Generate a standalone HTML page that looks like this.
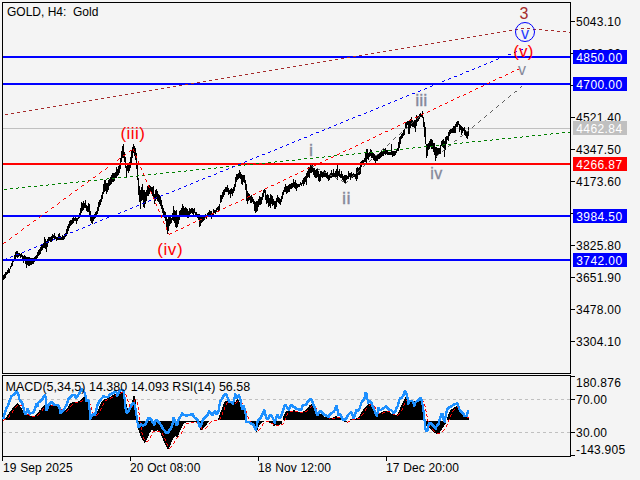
<!DOCTYPE html><html><head><meta charset="utf-8"><style>
html,body{margin:0;padding:0;width:640px;height:480px;overflow:hidden;background:#f4f4f4;}
svg{display:block;position:absolute;left:0;top:0}
text{font-family:"Liberation Sans",sans-serif;}
</style></head><body>
<svg width="640" height="480" viewBox="0 0 640 480">
<rect x="0" y="0" width="640" height="480" fill="#f4f4f4"/>
<line x1="3" y1="128.5" x2="570" y2="128.5" stroke="#c0c0c0" stroke-width="1" shape-rendering="crispEdges"/>
<g fill="#000" shape-rendering="crispEdges">
<rect x="3" y="275" width="1" height="5"/>
<rect x="4" y="274" width="1" height="5"/>
<rect x="5" y="272" width="1" height="6"/>
<rect x="6" y="272" width="1" height="3"/>
<rect x="7" y="270" width="1" height="4"/>
<rect x="8" y="268" width="1" height="5"/>
<rect x="9" y="269" width="1" height="4"/>
<rect x="10" y="266" width="1" height="3"/>
<rect x="11" y="263" width="1" height="4"/>
<rect x="12" y="261" width="1" height="5"/>
<rect x="13" y="259" width="1" height="3"/>
<rect x="14" y="255" width="1" height="6"/>
<rect x="15" y="252" width="1" height="9"/>
<rect x="16" y="251" width="1" height="6"/>
<rect x="17" y="251" width="1" height="7"/>
<rect x="18" y="253" width="1" height="4"/>
<rect x="19" y="253" width="1" height="3"/>
<rect x="20" y="254" width="1" height="4"/>
<rect x="21" y="253" width="1" height="4"/>
<rect x="22" y="255" width="1" height="5"/>
<rect x="23" y="256" width="1" height="7"/>
<rect x="24" y="255" width="1" height="6"/>
<rect x="25" y="256" width="1" height="8"/>
<rect x="26" y="257" width="1" height="11"/>
<rect x="27" y="257" width="1" height="8"/>
<rect x="28" y="257" width="1" height="9"/>
<rect x="29" y="257" width="1" height="9"/>
<rect x="30" y="258" width="1" height="7"/>
<rect x="31" y="258" width="1" height="7"/>
<rect x="32" y="258" width="1" height="6"/>
<rect x="33" y="258" width="1" height="6"/>
<rect x="34" y="257" width="1" height="5"/>
<rect x="35" y="256" width="1" height="5"/>
<rect x="36" y="255" width="1" height="5"/>
<rect x="37" y="252" width="1" height="6"/>
<rect x="38" y="250" width="1" height="6"/>
<rect x="39" y="249" width="1" height="6"/>
<rect x="40" y="247" width="1" height="7"/>
<rect x="41" y="244" width="1" height="7"/>
<rect x="42" y="244" width="1" height="6"/>
<rect x="43" y="243" width="1" height="5"/>
<rect x="44" y="237" width="1" height="11"/>
<rect x="45" y="239" width="1" height="10"/>
<rect x="46" y="241" width="1" height="11"/>
<rect x="47" y="239" width="1" height="8"/>
<rect x="48" y="237" width="1" height="6"/>
<rect x="49" y="237" width="1" height="4"/>
<rect x="50" y="237" width="1" height="5"/>
<rect x="51" y="236" width="1" height="6"/>
<rect x="52" y="234" width="1" height="6"/>
<rect x="53" y="235" width="1" height="3"/>
<rect x="54" y="233" width="1" height="6"/>
<rect x="55" y="236" width="1" height="3"/>
<rect x="56" y="237" width="1" height="4"/>
<rect x="57" y="237" width="1" height="3"/>
<rect x="58" y="234" width="1" height="6"/>
<rect x="59" y="233" width="1" height="7"/>
<rect x="60" y="236" width="1" height="4"/>
<rect x="61" y="237" width="1" height="3"/>
<rect x="62" y="235" width="1" height="5"/>
<rect x="63" y="236" width="1" height="4"/>
<rect x="64" y="234" width="1" height="5"/>
<rect x="65" y="233" width="1" height="4"/>
<rect x="66" y="229" width="1" height="7"/>
<rect x="67" y="226" width="1" height="8"/>
<rect x="68" y="224" width="1" height="7"/>
<rect x="69" y="221" width="1" height="7"/>
<rect x="70" y="220" width="1" height="6"/>
<rect x="71" y="220" width="1" height="5"/>
<rect x="72" y="218" width="1" height="6"/>
<rect x="73" y="217" width="1" height="6"/>
<rect x="74" y="218" width="1" height="3"/>
<rect x="75" y="217" width="1" height="4"/>
<rect x="76" y="218" width="1" height="6"/>
<rect x="77" y="218" width="1" height="3"/>
<rect x="78" y="215" width="1" height="4"/>
<rect x="79" y="213" width="1" height="5"/>
<rect x="80" y="208" width="1" height="9"/>
<rect x="81" y="202" width="1" height="11"/>
<rect x="82" y="203" width="1" height="8"/>
<rect x="83" y="201" width="1" height="9"/>
<rect x="84" y="203" width="1" height="5"/>
<rect x="85" y="200" width="1" height="8"/>
<rect x="86" y="205" width="1" height="6"/>
<rect x="87" y="206" width="1" height="6"/>
<rect x="88" y="203" width="1" height="9"/>
<rect x="89" y="204" width="1" height="11"/>
<rect x="90" y="211" width="1" height="10"/>
<rect x="91" y="215" width="1" height="8"/>
<rect x="92" y="216" width="1" height="8"/>
<rect x="93" y="215" width="1" height="6"/>
<rect x="94" y="214" width="1" height="5"/>
<rect x="95" y="212" width="1" height="6"/>
<rect x="96" y="211" width="1" height="6"/>
<rect x="97" y="207" width="1" height="7"/>
<rect x="98" y="202" width="1" height="9"/>
<rect x="99" y="200" width="1" height="7"/>
<rect x="100" y="199" width="1" height="6"/>
<rect x="101" y="195" width="1" height="7"/>
<rect x="102" y="192" width="1" height="7"/>
<rect x="103" y="184" width="1" height="10"/>
<rect x="104" y="180" width="1" height="12"/>
<rect x="105" y="180" width="1" height="11"/>
<rect x="106" y="183" width="1" height="11"/>
<rect x="107" y="183" width="1" height="9"/>
<rect x="108" y="180" width="1" height="10"/>
<rect x="109" y="179" width="1" height="7"/>
<rect x="110" y="177" width="1" height="8"/>
<rect x="111" y="175" width="1" height="9"/>
<rect x="112" y="173" width="1" height="9"/>
<rect x="113" y="173" width="1" height="9"/>
<rect x="114" y="173" width="1" height="8"/>
<rect x="115" y="172" width="1" height="6"/>
<rect x="116" y="167" width="1" height="11"/>
<rect x="117" y="169" width="1" height="7"/>
<rect x="118" y="166" width="1" height="9"/>
<rect x="119" y="163" width="1" height="10"/>
<rect x="120" y="158" width="1" height="11"/>
<rect x="121" y="151" width="1" height="11"/>
<rect x="122" y="146" width="1" height="12"/>
<rect x="123" y="144" width="1" height="14"/>
<rect x="124" y="152" width="1" height="10"/>
<rect x="125" y="157" width="1" height="11"/>
<rect x="126" y="166" width="1" height="12"/>
<rect x="127" y="163" width="1" height="8"/>
<rect x="128" y="163" width="1" height="10"/>
<rect x="129" y="162" width="1" height="9"/>
<rect x="130" y="157" width="1" height="11"/>
<rect x="131" y="150" width="1" height="13"/>
<rect x="132" y="147" width="1" height="11"/>
<rect x="133" y="144" width="1" height="9"/>
<rect x="134" y="146" width="1" height="10"/>
<rect x="135" y="148" width="1" height="12"/>
<rect x="136" y="153" width="1" height="16"/>
<rect x="137" y="164" width="1" height="16"/>
<rect x="138" y="178" width="1" height="17"/>
<rect x="139" y="186" width="1" height="16"/>
<rect x="140" y="190" width="1" height="19"/>
<rect x="141" y="187" width="1" height="14"/>
<rect x="142" y="184" width="1" height="16"/>
<rect x="143" y="190" width="1" height="17"/>
<rect x="144" y="190" width="1" height="18"/>
<rect x="145" y="192" width="1" height="12"/>
<rect x="146" y="190" width="1" height="11"/>
<rect x="147" y="186" width="1" height="10"/>
<rect x="148" y="187" width="1" height="9"/>
<rect x="149" y="185" width="1" height="9"/>
<rect x="150" y="186" width="1" height="6"/>
<rect x="151" y="187" width="1" height="6"/>
<rect x="152" y="187" width="1" height="9"/>
<rect x="153" y="186" width="1" height="13"/>
<rect x="154" y="194" width="1" height="10"/>
<rect x="155" y="190" width="1" height="11"/>
<rect x="156" y="189" width="1" height="10"/>
<rect x="157" y="191" width="1" height="10"/>
<rect x="158" y="194" width="1" height="8"/>
<rect x="159" y="195" width="1" height="9"/>
<rect x="160" y="197" width="1" height="9"/>
<rect x="161" y="200" width="1" height="9"/>
<rect x="162" y="205" width="1" height="8"/>
<rect x="163" y="208" width="1" height="8"/>
<rect x="164" y="211" width="1" height="7"/>
<rect x="165" y="212" width="1" height="9"/>
<rect x="166" y="216" width="1" height="12"/>
<rect x="167" y="219" width="1" height="15"/>
<rect x="168" y="217" width="1" height="14"/>
<rect x="169" y="215" width="1" height="11"/>
<rect x="170" y="216" width="1" height="8"/>
<rect x="171" y="218" width="1" height="5"/>
<rect x="172" y="213" width="1" height="7"/>
<rect x="173" y="206" width="1" height="15"/>
<rect x="174" y="210" width="1" height="13"/>
<rect x="175" y="211" width="1" height="16"/>
<rect x="176" y="210" width="1" height="18"/>
<rect x="177" y="215" width="1" height="12"/>
<rect x="178" y="215" width="1" height="9"/>
<rect x="179" y="211" width="1" height="9"/>
<rect x="180" y="210" width="1" height="7"/>
<rect x="181" y="208" width="1" height="8"/>
<rect x="182" y="204" width="1" height="12"/>
<rect x="183" y="206" width="1" height="10"/>
<rect x="184" y="208" width="1" height="9"/>
<rect x="185" y="207" width="1" height="8"/>
<rect x="186" y="208" width="1" height="9"/>
<rect x="187" y="209" width="1" height="9"/>
<rect x="188" y="211" width="1" height="7"/>
<rect x="189" y="208" width="1" height="9"/>
<rect x="190" y="209" width="1" height="5"/>
<rect x="191" y="208" width="1" height="5"/>
<rect x="192" y="208" width="1" height="6"/>
<rect x="193" y="209" width="1" height="6"/>
<rect x="194" y="208" width="1" height="5"/>
<rect x="195" y="212" width="1" height="3"/>
<rect x="196" y="212" width="1" height="4"/>
<rect x="197" y="214" width="1" height="4"/>
<rect x="198" y="214" width="1" height="6"/>
<rect x="199" y="214" width="1" height="13"/>
<rect x="200" y="216" width="1" height="10"/>
<rect x="201" y="215" width="1" height="8"/>
<rect x="202" y="217" width="1" height="5"/>
<rect x="203" y="215" width="1" height="6"/>
<rect x="204" y="215" width="1" height="5"/>
<rect x="205" y="214" width="1" height="4"/>
<rect x="206" y="215" width="1" height="4"/>
<rect x="207" y="213" width="1" height="3"/>
<rect x="208" y="212" width="1" height="4"/>
<rect x="209" y="210" width="1" height="6"/>
<rect x="210" y="211" width="1" height="6"/>
<rect x="211" y="211" width="1" height="8"/>
<rect x="212" y="213" width="1" height="4"/>
<rect x="213" y="209" width="1" height="6"/>
<rect x="214" y="210" width="1" height="3"/>
<rect x="215" y="210" width="1" height="4"/>
<rect x="216" y="208" width="1" height="4"/>
<rect x="217" y="207" width="1" height="3"/>
<rect x="218" y="206" width="1" height="6"/>
<rect x="219" y="204" width="1" height="6"/>
<rect x="220" y="195" width="1" height="8"/>
<rect x="221" y="195" width="1" height="7"/>
<rect x="222" y="192" width="1" height="7"/>
<rect x="223" y="190" width="1" height="7"/>
<rect x="224" y="189" width="1" height="6"/>
<rect x="225" y="187" width="1" height="5"/>
<rect x="226" y="187" width="1" height="5"/>
<rect x="227" y="185" width="1" height="7"/>
<rect x="228" y="188" width="1" height="7"/>
<rect x="229" y="190" width="1" height="4"/>
<rect x="230" y="189" width="1" height="9"/>
<rect x="231" y="188" width="1" height="6"/>
<rect x="232" y="189" width="1" height="7"/>
<rect x="233" y="187" width="1" height="6"/>
<rect x="234" y="184" width="1" height="7"/>
<rect x="235" y="177" width="1" height="10"/>
<rect x="236" y="174" width="1" height="8"/>
<rect x="237" y="174" width="1" height="6"/>
<rect x="238" y="173" width="1" height="6"/>
<rect x="239" y="170" width="1" height="8"/>
<rect x="240" y="172" width="1" height="7"/>
<rect x="241" y="174" width="1" height="10"/>
<rect x="242" y="175" width="1" height="10"/>
<rect x="243" y="175" width="1" height="7"/>
<rect x="244" y="175" width="1" height="8"/>
<rect x="245" y="180" width="1" height="10"/>
<rect x="246" y="184" width="1" height="17"/>
<rect x="247" y="191" width="1" height="13"/>
<rect x="248" y="193" width="1" height="8"/>
<rect x="249" y="194" width="1" height="6"/>
<rect x="250" y="196" width="1" height="7"/>
<rect x="251" y="195" width="1" height="8"/>
<rect x="252" y="197" width="1" height="5"/>
<rect x="253" y="199" width="1" height="5"/>
<rect x="254" y="201" width="1" height="10"/>
<rect x="255" y="202" width="1" height="11"/>
<rect x="256" y="201" width="1" height="11"/>
<rect x="257" y="201" width="1" height="10"/>
<rect x="258" y="199" width="1" height="8"/>
<rect x="259" y="196" width="1" height="9"/>
<rect x="260" y="197" width="1" height="8"/>
<rect x="261" y="197" width="1" height="7"/>
<rect x="262" y="193" width="1" height="7"/>
<rect x="263" y="190" width="1" height="7"/>
<rect x="264" y="189" width="1" height="4"/>
<rect x="265" y="190" width="1" height="10"/>
<rect x="266" y="195" width="1" height="9"/>
<rect x="267" y="194" width="1" height="9"/>
<rect x="268" y="195" width="1" height="12"/>
<rect x="269" y="198" width="1" height="8"/>
<rect x="270" y="194" width="1" height="14"/>
<rect x="271" y="195" width="1" height="9"/>
<rect x="272" y="196" width="1" height="10"/>
<rect x="273" y="199" width="1" height="6"/>
<rect x="274" y="201" width="1" height="8"/>
<rect x="275" y="201" width="1" height="8"/>
<rect x="276" y="198" width="1" height="9"/>
<rect x="277" y="195" width="1" height="7"/>
<rect x="278" y="197" width="1" height="6"/>
<rect x="279" y="198" width="1" height="6"/>
<rect x="280" y="199" width="1" height="6"/>
<rect x="281" y="196" width="1" height="6"/>
<rect x="282" y="192" width="1" height="7"/>
<rect x="283" y="190" width="1" height="5"/>
<rect x="284" y="187" width="1" height="5"/>
<rect x="285" y="184" width="1" height="8"/>
<rect x="286" y="186" width="1" height="8"/>
<rect x="287" y="186" width="1" height="7"/>
<rect x="288" y="185" width="1" height="7"/>
<rect x="289" y="184" width="1" height="8"/>
<rect x="290" y="184" width="1" height="5"/>
<rect x="291" y="183" width="1" height="6"/>
<rect x="292" y="183" width="1" height="5"/>
<rect x="293" y="179" width="1" height="8"/>
<rect x="294" y="182" width="1" height="6"/>
<rect x="295" y="180" width="1" height="9"/>
<rect x="296" y="183" width="1" height="8"/>
<rect x="297" y="184" width="1" height="4"/>
<rect x="298" y="184" width="1" height="3"/>
<rect x="299" y="184" width="1" height="3"/>
<rect x="300" y="182" width="1" height="3"/>
<rect x="301" y="183" width="1" height="3"/>
<rect x="302" y="180" width="1" height="4"/>
<rect x="303" y="178" width="1" height="8"/>
<rect x="304" y="177" width="1" height="7"/>
<rect x="305" y="176" width="1" height="6"/>
<rect x="306" y="173" width="1" height="12"/>
<rect x="307" y="171" width="1" height="7"/>
<rect x="308" y="167" width="1" height="10"/>
<rect x="309" y="167" width="1" height="11"/>
<rect x="310" y="165" width="1" height="8"/>
<rect x="311" y="166" width="1" height="7"/>
<rect x="312" y="164" width="1" height="8"/>
<rect x="313" y="168" width="1" height="7"/>
<rect x="314" y="168" width="1" height="9"/>
<rect x="315" y="170" width="1" height="8"/>
<rect x="316" y="169" width="1" height="9"/>
<rect x="317" y="169" width="1" height="8"/>
<rect x="318" y="171" width="1" height="10"/>
<rect x="319" y="174" width="1" height="8"/>
<rect x="320" y="171" width="1" height="10"/>
<rect x="321" y="171" width="1" height="6"/>
<rect x="322" y="172" width="1" height="6"/>
<rect x="323" y="171" width="1" height="6"/>
<rect x="324" y="170" width="1" height="7"/>
<rect x="325" y="171" width="1" height="6"/>
<rect x="326" y="173" width="1" height="5"/>
<rect x="327" y="172" width="1" height="7"/>
<rect x="328" y="175" width="1" height="6"/>
<rect x="329" y="175" width="1" height="5"/>
<rect x="330" y="173" width="1" height="5"/>
<rect x="331" y="170" width="1" height="8"/>
<rect x="332" y="173" width="1" height="4"/>
<rect x="333" y="169" width="1" height="8"/>
<rect x="334" y="173" width="1" height="4"/>
<rect x="335" y="171" width="1" height="6"/>
<rect x="336" y="169" width="1" height="8"/>
<rect x="337" y="165" width="1" height="15"/>
<rect x="338" y="171" width="1" height="5"/>
<rect x="339" y="169" width="1" height="8"/>
<rect x="340" y="174" width="1" height="4"/>
<rect x="341" y="171" width="1" height="7"/>
<rect x="342" y="174" width="1" height="6"/>
<rect x="343" y="176" width="1" height="5"/>
<rect x="344" y="175" width="1" height="8"/>
<rect x="345" y="175" width="1" height="8"/>
<rect x="346" y="175" width="1" height="5"/>
<rect x="347" y="176" width="1" height="3"/>
<rect x="348" y="171" width="1" height="8"/>
<rect x="349" y="173" width="1" height="4"/>
<rect x="350" y="173" width="1" height="7"/>
<rect x="351" y="172" width="1" height="5"/>
<rect x="352" y="174" width="1" height="4"/>
<rect x="353" y="173" width="1" height="4"/>
<rect x="354" y="174" width="1" height="3"/>
<rect x="355" y="174" width="1" height="5"/>
<rect x="356" y="168" width="1" height="13"/>
<rect x="357" y="167" width="1" height="12"/>
<rect x="358" y="168" width="1" height="7"/>
<rect x="359" y="167" width="1" height="8"/>
<rect x="360" y="162" width="1" height="12"/>
<rect x="361" y="161" width="1" height="6"/>
<rect x="362" y="160" width="1" height="3"/>
<rect x="363" y="160" width="1" height="3"/>
<rect x="364" y="158" width="1" height="4"/>
<rect x="365" y="153" width="1" height="9"/>
<rect x="366" y="149" width="1" height="16"/>
<rect x="367" y="149" width="1" height="10"/>
<rect x="368" y="153" width="1" height="7"/>
<rect x="369" y="152" width="1" height="5"/>
<rect x="370" y="149" width="1" height="7"/>
<rect x="371" y="150" width="1" height="8"/>
<rect x="372" y="152" width="1" height="6"/>
<rect x="373" y="153" width="1" height="7"/>
<rect x="374" y="154" width="1" height="7"/>
<rect x="375" y="155" width="1" height="8"/>
<rect x="376" y="155" width="1" height="6"/>
<rect x="377" y="155" width="1" height="6"/>
<rect x="378" y="154" width="1" height="5"/>
<rect x="379" y="153" width="1" height="6"/>
<rect x="380" y="152" width="1" height="6"/>
<rect x="381" y="151" width="1" height="6"/>
<rect x="382" y="151" width="1" height="5"/>
<rect x="383" y="149" width="1" height="7"/>
<rect x="384" y="149" width="1" height="5"/>
<rect x="385" y="148" width="1" height="7"/>
<rect x="386" y="150" width="1" height="4"/>
<rect x="387" y="150" width="1" height="5"/>
<rect x="388" y="152" width="1" height="3"/>
<rect x="389" y="152" width="1" height="3"/>
<rect x="390" y="152" width="1" height="3"/>
<rect x="391" y="144" width="1" height="11"/>
<rect x="392" y="151" width="1" height="6"/>
<rect x="393" y="151" width="1" height="5"/>
<rect x="394" y="151" width="1" height="5"/>
<rect x="395" y="151" width="1" height="4"/>
<rect x="396" y="150" width="1" height="3"/>
<rect x="397" y="148" width="1" height="3"/>
<rect x="398" y="142" width="1" height="9"/>
<rect x="399" y="137" width="1" height="11"/>
<rect x="400" y="136" width="1" height="8"/>
<rect x="401" y="134" width="1" height="5"/>
<rect x="402" y="133" width="1" height="5"/>
<rect x="403" y="130" width="1" height="6"/>
<rect x="404" y="129" width="1" height="6"/>
<rect x="405" y="122" width="1" height="6"/>
<rect x="406" y="122" width="1" height="6"/>
<rect x="407" y="121" width="1" height="4"/>
<rect x="408" y="121" width="1" height="13"/>
<rect x="409" y="121" width="1" height="13"/>
<rect x="410" y="119" width="1" height="9"/>
<rect x="411" y="117" width="1" height="9"/>
<rect x="412" y="120" width="1" height="7"/>
<rect x="413" y="121" width="1" height="6"/>
<rect x="414" y="120" width="1" height="8"/>
<rect x="415" y="120" width="1" height="12"/>
<rect x="416" y="115" width="1" height="11"/>
<rect x="417" y="117" width="1" height="5"/>
<rect x="418" y="116" width="1" height="5"/>
<rect x="419" y="114" width="1" height="5"/>
<rect x="420" y="113" width="1" height="4"/>
<rect x="421" y="114" width="1" height="3"/>
<rect x="422" y="111" width="1" height="7"/>
<rect x="423" y="117" width="1" height="10"/>
<rect x="424" y="122" width="1" height="15"/>
<rect x="425" y="127" width="1" height="17"/>
<rect x="426" y="144" width="1" height="14"/>
<rect x="427" y="144" width="1" height="12"/>
<rect x="428" y="143" width="1" height="7"/>
<rect x="429" y="141" width="1" height="8"/>
<rect x="430" y="139" width="1" height="8"/>
<rect x="431" y="139" width="1" height="10"/>
<rect x="432" y="140" width="1" height="9"/>
<rect x="433" y="143" width="1" height="9"/>
<rect x="434" y="143" width="1" height="12"/>
<rect x="435" y="147" width="1" height="14"/>
<rect x="436" y="147" width="1" height="11"/>
<rect x="437" y="148" width="1" height="7"/>
<rect x="438" y="148" width="1" height="7"/>
<rect x="439" y="148" width="1" height="6"/>
<rect x="440" y="145" width="1" height="9"/>
<rect x="441" y="141" width="1" height="5"/>
<rect x="442" y="140" width="1" height="7"/>
<rect x="443" y="139" width="1" height="9"/>
<rect x="444" y="141" width="1" height="16"/>
<rect x="445" y="137" width="1" height="13"/>
<rect x="446" y="136" width="1" height="8"/>
<rect x="447" y="136" width="1" height="4"/>
<rect x="448" y="132" width="1" height="9"/>
<rect x="449" y="130" width="1" height="6"/>
<rect x="450" y="129" width="1" height="5"/>
<rect x="451" y="129" width="1" height="4"/>
<rect x="452" y="128" width="1" height="5"/>
<rect x="453" y="126" width="1" height="7"/>
<rect x="454" y="126" width="1" height="7"/>
<rect x="455" y="124" width="1" height="9"/>
<rect x="456" y="122" width="1" height="5"/>
<rect x="457" y="121" width="1" height="6"/>
<rect x="458" y="121" width="1" height="4"/>
<rect x="459" y="124" width="1" height="8"/>
<rect x="460" y="125" width="1" height="5"/>
<rect x="461" y="126" width="1" height="9"/>
<rect x="462" y="127" width="1" height="6"/>
<rect x="463" y="128" width="1" height="3"/>
<rect x="464" y="127" width="1" height="8"/>
<rect x="465" y="130" width="1" height="6"/>
<rect x="466" y="132" width="1" height="6"/>
<rect x="467" y="132" width="1" height="7"/>
<rect x="468" y="127" width="1" height="9"/>
</g>
<g shape-rendering="crispEdges">
<rect x="3" y="56" width="567" height="2" fill="#0000ff"/>
<rect x="3" y="83" width="567" height="2" fill="#0000ff"/>
<rect x="3" y="215" width="567" height="2" fill="#0000ff"/>
<rect x="3" y="259" width="567" height="2" fill="#0000ff"/>
<rect x="3" y="163" width="567" height="2" fill="#ff0000"/>
</g>
<path d="M562 132h3v1h-3zM568 132h3v1h-3zM551 133h2v1h-2zM556 133h3v1h-3zM544 134h3v1h-3zM550 134h1v1h-1zM532 135h3v1h-3zM538 135h3v1h-3zM522 136h1v1h-1zM526 136h3v1h-3zM514 137h3v1h-3zM520 137h2v1h-2zM502 138h3v1h-3zM508 138h3v1h-3zM492 139h1v1h-1zM496 139h3v1h-3zM484 140h3v1h-3zM490 140h2v1h-2zM472 141h3v1h-3zM478 141h3v1h-3zM462 142h1v1h-1zM466 142h3v1h-3zM454 143h3v1h-3zM460 143h2v1h-2zM443 144h2v1h-2zM448 144h3v1h-3zM436 145h3v1h-3zM442 145h1v1h-1zM424 146h3v1h-3zM430 146h3v1h-3zM413 147h2v1h-2zM418 147h3v1h-3zM406 148h3v1h-3zM412 148h1v1h-1zM394 149h3v1h-3zM400 149h3v1h-3zM383 150h2v1h-2zM388 150h3v1h-3zM376 151h3v1h-3zM382 151h1v1h-1zM364 152h3v1h-3zM370 152h3v1h-3zM354 153h1v1h-1zM358 153h3v1h-3zM346 154h3v1h-3zM352 154h2v1h-2zM334 155h3v1h-3zM340 155h3v1h-3zM324 156h1v1h-1zM328 156h3v1h-3zM316 157h3v1h-3zM322 157h2v1h-2zM304 158h3v1h-3zM310 158h3v1h-3zM298 159h3v1h-3zM286 160h3v1h-3zM292 160h3v1h-3zM275 161h2v1h-2zM280 161h3v1h-3zM268 162h3v1h-3zM274 162h1v1h-1zM256 163h3v1h-3zM262 163h3v1h-3zM245 164h2v1h-2zM250 164h3v1h-3zM238 165h3v1h-3zM244 165h1v1h-1zM226 166h3v1h-3zM232 166h3v1h-3zM216 167h1v1h-1zM220 167h3v1h-3zM208 168h3v1h-3zM214 168h2v1h-2zM196 169h3v1h-3zM202 169h3v1h-3zM186 170h1v1h-1zM190 170h3v1h-3zM178 171h3v1h-3zM184 171h2v1h-2zM166 172h3v1h-3zM172 172h3v1h-3zM156 173h1v1h-1zM160 173h3v1h-3zM148 174h3v1h-3zM154 174h2v1h-2zM137 175h2v1h-2zM142 175h3v1h-3zM130 176h3v1h-3zM136 176h1v1h-1zM118 177h3v1h-3zM124 177h3v1h-3zM107 178h2v1h-2zM112 178h3v1h-3zM100 179h3v1h-3zM106 179h1v1h-1zM88 180h3v1h-3zM94 180h3v1h-3zM78 181h1v1h-1zM82 181h3v1h-3zM70 182h3v1h-3zM76 182h2v1h-2zM58 183h3v1h-3zM64 183h3v1h-3zM48 184h1v1h-1zM52 184h3v1h-3zM40 185h3v1h-3zM46 185h2v1h-2zM28 186h3v1h-3zM34 186h3v1h-3zM18 187h1v1h-1zM22 187h3v1h-3zM10 188h3v1h-3zM16 188h2v1h-2zM4 189h3v1h-3z" fill="#008000" shape-rendering="crispEdges"/>
<path d="M521 28h3v1h-3zM515 29h3v1h-3zM509 30h3v1h-3zM503 31h3v1h-3zM497 32h3v1h-3zM491 33h3v1h-3zM485 34h3v1h-3zM479 35h3v1h-3zM473 36h3v1h-3zM467 37h3v1h-3zM461 38h3v1h-3zM455 39h3v1h-3zM449 40h3v1h-3zM443 41h3v1h-3zM437 42h3v1h-3zM431 43h3v1h-3zM425 44h3v1h-3zM419 45h3v1h-3zM413 46h3v1h-3zM407 47h3v1h-3zM401 48h3v1h-3zM395 49h3v1h-3zM389 50h3v1h-3zM383 51h3v1h-3zM377 52h3v1h-3zM371 53h3v1h-3zM365 54h3v1h-3zM359 55h3v1h-3zM353 56h3v1h-3zM347 57h3v1h-3zM341 58h3v1h-3zM335 59h3v1h-3zM329 60h3v1h-3zM323 61h3v1h-3zM317 62h3v1h-3zM311 63h3v1h-3zM305 64h3v1h-3zM299 65h3v1h-3zM293 66h3v1h-3zM287 67h3v1h-3zM281 68h3v1h-3zM275 69h3v1h-3zM269 70h3v1h-3zM263 71h3v1h-3zM257 72h3v1h-3zM251 73h3v1h-3zM245 74h3v1h-3zM239 75h3v1h-3zM233 76h3v1h-3zM227 77h3v1h-3zM221 78h3v1h-3zM215 79h3v1h-3zM209 80h3v1h-3zM203 81h3v1h-3zM197 82h3v1h-3zM191 83h3v1h-3zM185 84h3v1h-3zM179 85h3v1h-3zM173 86h3v1h-3zM167 87h3v1h-3zM161 88h3v1h-3zM155 89h3v1h-3zM149 90h3v1h-3zM143 91h3v1h-3zM137 92h3v1h-3zM131 93h3v1h-3zM125 94h3v1h-3zM119 95h3v1h-3zM113 96h3v1h-3zM107 97h3v1h-3zM101 98h3v1h-3zM95 99h3v1h-3zM89 100h3v1h-3zM83 101h3v1h-3zM77 102h3v1h-3zM71 103h3v1h-3zM65 104h3v1h-3zM59 105h3v1h-3zM53 106h3v1h-3zM47 107h3v1h-3zM41 108h3v1h-3zM35 109h3v1h-3zM29 110h3v1h-3zM23 111h3v1h-3zM17 112h3v1h-3zM11 113h3v1h-3zM5 114h3v1h-3z" fill="#a52a2a" shape-rendering="crispEdges"/>
<path d="M527 28h3v1h-3zM533 29h3v1h-3zM539 29h3v1h-3zM545 30h3v1h-3zM551 30h3v1h-3zM557 31h3v1h-3zM563 31h3v1h-3zM569 32h2v1h-2z" fill="#a52a2a" shape-rendering="crispEdges"/>
<path d="M521 49h2v1h-2zM520 50h1v1h-1zM516 51h1v1h-1zM514 52h2v1h-2zM508 54h3v1h-3zM503 56h2v1h-2zM502 57h1v1h-1zM498 58h1v1h-1zM496 59h2v1h-2zM491 61h2v1h-2zM490 62h1v1h-1zM486 63h1v1h-1zM484 64h2v1h-2zM479 66h2v1h-2zM478 67h1v1h-1zM474 68h1v1h-1zM472 69h2v1h-2zM466 71h3v1h-3zM462 73h1v1h-1zM460 74h2v1h-2zM454 76h3v1h-3zM449 78h2v1h-2zM448 79h1v1h-1zM444 80h1v1h-1zM442 81h2v1h-2zM437 83h2v1h-2zM436 84h1v1h-1zM432 85h1v1h-1zM430 86h2v1h-2zM425 88h2v1h-2zM424 89h1v1h-1zM420 90h1v1h-1zM418 91h2v1h-2zM412 93h3v1h-3zM407 95h2v1h-2zM406 96h1v1h-1zM402 97h1v1h-1zM400 98h2v1h-2zM395 100h2v1h-2zM394 101h1v1h-1zM390 102h1v1h-1zM388 103h2v1h-2zM383 105h2v1h-2zM382 106h1v1h-1zM378 107h1v1h-1zM376 108h2v1h-2zM371 110h2v1h-2zM370 111h1v1h-1zM366 112h1v1h-1zM364 113h2v1h-2zM358 115h3v1h-3zM353 117h2v1h-2zM352 118h1v1h-1zM348 119h1v1h-1zM346 120h2v1h-2zM341 122h2v1h-2zM340 123h1v1h-1zM336 124h1v1h-1zM334 125h2v1h-2zM329 127h2v1h-2zM328 128h1v1h-1zM324 129h1v1h-1zM322 130h2v1h-2zM316 132h3v1h-3zM311 134h2v1h-2zM310 135h1v1h-1zM304 137h3v1h-3zM299 139h2v1h-2zM298 140h1v1h-1zM294 141h1v1h-1zM292 142h2v1h-2zM287 144h2v1h-2zM286 145h1v1h-1zM282 146h1v1h-1zM280 147h2v1h-2zM275 149h2v1h-2zM274 150h1v1h-1zM270 151h1v1h-1zM268 152h2v1h-2zM262 154h3v1h-3zM257 156h2v1h-2zM256 157h1v1h-1zM252 158h1v1h-1zM250 159h2v1h-2zM245 161h2v1h-2zM244 162h1v1h-1zM240 163h1v1h-1zM238 164h2v1h-2zM233 166h2v1h-2zM232 167h1v1h-1zM228 168h1v1h-1zM226 169h2v1h-2zM220 171h3v1h-3zM216 173h1v1h-1zM214 174h2v1h-2zM208 176h3v1h-3zM203 178h2v1h-2zM202 179h1v1h-1zM198 180h1v1h-1zM196 181h2v1h-2zM191 183h2v1h-2zM190 184h1v1h-1zM186 185h1v1h-1zM184 186h2v1h-2zM179 188h2v1h-2zM178 189h1v1h-1zM174 190h1v1h-1zM172 191h2v1h-2zM166 193h3v1h-3zM161 195h2v1h-2zM160 196h1v1h-1zM156 197h1v1h-1zM154 198h2v1h-2zM149 200h2v1h-2zM148 201h1v1h-1zM144 202h1v1h-1zM142 203h2v1h-2zM137 205h2v1h-2zM136 206h1v1h-1zM132 207h1v1h-1zM130 208h2v1h-2zM125 210h2v1h-2zM124 211h1v1h-1zM120 212h1v1h-1zM118 213h2v1h-2zM112 215h3v1h-3zM107 217h2v1h-2zM106 218h1v1h-1zM102 219h1v1h-1zM100 220h2v1h-2zM95 222h2v1h-2zM94 223h1v1h-1zM90 224h1v1h-1zM88 225h2v1h-2zM83 227h2v1h-2zM82 228h1v1h-1zM78 229h1v1h-1zM76 230h2v1h-2zM70 232h3v1h-3zM65 234h2v1h-2zM64 235h1v1h-1zM58 237h3v1h-3zM53 239h2v1h-2zM52 240h1v1h-1zM48 241h1v1h-1zM46 242h2v1h-2zM41 244h2v1h-2zM40 245h1v1h-1zM36 246h1v1h-1zM34 247h2v1h-2zM29 249h2v1h-2zM28 250h1v1h-1zM24 251h1v1h-1zM22 252h2v1h-2zM16 254h3v1h-3zM11 256h2v1h-2zM10 257h1v1h-1zM6 258h1v1h-1zM4 259h2v1h-2z" fill="#0000ff" shape-rendering="crispEdges"/>
<path d="M130 150h2v1h-2zM129 151h1v1h-1zM125 154h1v1h-1zM123 155h2v1h-2zM119 158h1v1h-1zM118 159h1v1h-1zM117 160h1v1h-1zM112 163h2v1h-2zM111 164h1v1h-1zM107 167h1v1h-1zM106 168h1v1h-1zM105 169h1v1h-1zM101 171h1v1h-1zM100 172h1v1h-1zM99 173h1v1h-1zM95 176h1v1h-1zM93 177h2v1h-2zM89 180h1v1h-1zM88 181h1v1h-1zM87 182h1v1h-1zM82 185h2v1h-2zM81 186h1v1h-1zM77 189h1v1h-1zM75 190h2v1h-2zM71 193h1v1h-1zM70 194h1v1h-1zM69 195h1v1h-1zM64 198h2v1h-2zM63 199h1v1h-1zM59 202h1v1h-1zM58 203h1v1h-1zM57 204h1v1h-1zM52 207h2v1h-2zM51 208h1v1h-1zM47 211h1v1h-1zM45 212h2v1h-2zM41 215h1v1h-1zM40 216h1v1h-1zM39 217h1v1h-1zM34 220h2v1h-2zM33 221h1v1h-1zM29 224h1v1h-1zM27 225h2v1h-2zM23 228h1v1h-1zM22 229h1v1h-1zM21 230h1v1h-1zM17 233h1v1h-1zM15 234h2v1h-2zM11 237h1v1h-1zM10 238h1v1h-1zM9 239h1v1h-1zM4 242h2v1h-2zM3 243h1v1h-1z" fill="#ff0000" shape-rendering="crispEdges"/>
<path d="M133 149h1v1h-1zM133 150h1v1h-1zM134 151h1v1h-1zM135 155h1v1h-1zM136 156h1v1h-1zM136 157h1v1h-1zM138 161h1v1h-1zM138 162h1v1h-1zM139 163h1v1h-1zM140 167h1v1h-1zM141 168h1v1h-1zM141 169h1v1h-1zM143 173h1v1h-1zM143 174h1v1h-1zM144 175h1v1h-1zM145 179h1v1h-1zM146 180h1v1h-1zM146 181h1v1h-1zM148 185h1v1h-1zM148 186h1v1h-1zM149 187h1v1h-1zM150 191h1v1h-1zM151 192h1v1h-1zM151 193h1v1h-1zM153 197h1v1h-1zM153 198h1v1h-1zM154 199h1v1h-1zM155 203h1v1h-1zM156 204h1v1h-1zM156 205h1v1h-1zM158 209h1v1h-1zM158 210h1v1h-1zM159 211h1v1h-1zM161 215h1v1h-1zM161 216h1v1h-1zM161 217h1v1h-1zM163 221h1v1h-1zM163 222h1v1h-1zM164 223h1v1h-1zM166 227h1v1h-1zM166 228h1v1h-1zM166 229h1v1h-1zM168 233h1v1h-1zM169 234h1v1h-1z" fill="#ff0000" shape-rendering="crispEdges"/>
<path d="M517 69h2v1h-2zM512 71h2v1h-2zM511 72h1v1h-1zM506 74h2v1h-2zM505 75h1v1h-1zM499 77h3v1h-3zM495 79h1v1h-1zM493 80h2v1h-2zM489 82h1v1h-1zM487 83h2v1h-2zM483 85h1v1h-1zM481 86h2v1h-2zM476 88h2v1h-2zM475 89h1v1h-1zM470 91h2v1h-2zM469 92h1v1h-1zM464 94h2v1h-2zM463 95h1v1h-1zM459 96h1v1h-1zM457 97h2v1h-2zM453 99h1v1h-1zM451 100h2v1h-2zM447 102h1v1h-1zM445 103h2v1h-2zM440 105h2v1h-2zM439 106h1v1h-1zM434 108h2v1h-2zM433 109h1v1h-1zM428 111h2v1h-2zM427 112h1v1h-1zM423 113h1v1h-1zM421 114h2v1h-2zM417 116h1v1h-1zM415 117h2v1h-2zM411 119h1v1h-1zM409 120h2v1h-2zM404 122h2v1h-2zM403 123h1v1h-1zM398 125h2v1h-2zM397 126h1v1h-1zM392 128h2v1h-2zM391 129h1v1h-1zM385 131h3v1h-3zM381 133h1v1h-1zM379 134h2v1h-2zM375 136h1v1h-1zM373 137h2v1h-2zM369 139h1v1h-1zM367 140h2v1h-2zM362 142h2v1h-2zM361 143h1v1h-1zM356 145h2v1h-2zM355 146h1v1h-1zM350 148h2v1h-2zM349 149h1v1h-1zM345 150h1v1h-1zM343 151h2v1h-2zM339 153h1v1h-1zM337 154h2v1h-2zM333 156h1v1h-1zM331 157h2v1h-2zM326 159h2v1h-2zM325 160h1v1h-1zM320 162h2v1h-2zM319 163h1v1h-1zM314 165h2v1h-2zM313 166h1v1h-1zM309 167h1v1h-1zM307 168h2v1h-2zM303 170h1v1h-1zM301 171h2v1h-2zM297 173h1v1h-1zM295 174h2v1h-2zM290 176h2v1h-2zM289 177h1v1h-1zM284 179h2v1h-2zM283 180h1v1h-1zM278 182h2v1h-2zM277 183h1v1h-1zM271 185h3v1h-3zM267 187h1v1h-1zM265 188h2v1h-2zM261 190h1v1h-1zM259 191h2v1h-2zM255 193h1v1h-1zM253 194h2v1h-2zM248 196h2v1h-2zM247 197h1v1h-1zM242 199h2v1h-2zM241 200h1v1h-1zM236 202h2v1h-2zM235 203h1v1h-1zM231 204h1v1h-1zM229 205h2v1h-2zM225 207h1v1h-1zM223 208h2v1h-2zM219 210h1v1h-1zM217 211h2v1h-2zM212 213h2v1h-2zM211 214h1v1h-1zM206 216h2v1h-2zM205 217h1v1h-1zM200 219h2v1h-2zM199 220h1v1h-1zM195 221h1v1h-1zM193 222h2v1h-2zM189 224h1v1h-1zM187 225h2v1h-2zM183 227h1v1h-1zM181 228h2v1h-2zM176 230h2v1h-2zM175 231h1v1h-1zM170 233h2v1h-2zM169 234h1v1h-1z" fill="#ff0000" shape-rendering="crispEdges"/>
<path d="M311 165h1v1h-1zM312 166h2v1h-2zM317 168h1v1h-1zM318 169h2v1h-2zM323 171h1v1h-1zM324 172h2v1h-2zM329 174h1v1h-1zM330 175h2v1h-2zM335 177h1v1h-1zM336 178h2v1h-2zM341 180h1v1h-1zM342 181h2v1h-2z" fill="#606060" shape-rendering="crispEdges"/>
<path d="M419 116h1v1h-1zM418 117h1v1h-1zM417 118h1v1h-1zM413 121h1v1h-1zM412 122h1v1h-1zM411 123h1v1h-1zM407 127h1v1h-1zM405 128h2v1h-2zM401 132h1v1h-1zM400 133h1v1h-1zM399 134h1v1h-1zM395 137h1v1h-1zM394 138h1v1h-1zM393 139h1v1h-1zM389 143h1v1h-1zM388 144h1v1h-1zM387 145h1v1h-1zM383 148h1v1h-1zM382 149h1v1h-1zM381 150h1v1h-1zM377 154h1v1h-1zM375 155h2v1h-2zM371 159h1v1h-1zM370 160h1v1h-1zM369 161h1v1h-1zM365 164h1v1h-1zM364 165h1v1h-1zM363 166h1v1h-1zM359 170h1v1h-1zM358 171h1v1h-1zM357 172h1v1h-1zM353 175h1v1h-1zM352 176h1v1h-1zM351 177h1v1h-1zM347 181h1v1h-1zM346 182h1v1h-1zM345 183h1v1h-1z" fill="#606060" shape-rendering="crispEdges"/>
<path d="M521 86h1v1h-1zM520 87h1v1h-1zM515 91h2v1h-2zM514 92h1v1h-1zM510 95h1v1h-1zM509 96h1v1h-1zM508 97h1v1h-1zM504 100h1v1h-1zM503 101h1v1h-1zM502 102h1v1h-1zM498 105h1v1h-1zM497 106h1v1h-1zM496 107h1v1h-1zM492 110h1v1h-1zM491 111h1v1h-1zM490 112h1v1h-1zM486 115h1v1h-1zM485 116h1v1h-1zM484 117h1v1h-1zM480 120h1v1h-1zM479 121h1v1h-1zM478 122h1v1h-1zM474 125h1v1h-1zM473 126h1v1h-1zM472 127h1v1h-1zM468 130h1v1h-1zM466 131h2v1h-2zM462 135h1v1h-1zM460 136h2v1h-2zM455 140h2v1h-2zM454 141h1v1h-1zM449 145h2v1h-2zM448 146h1v1h-1zM444 149h1v1h-1zM443 150h1v1h-1zM442 151h1v1h-1zM438 154h1v1h-1zM437 155h1v1h-1zM436 156h1v1h-1z" fill="#606060" shape-rendering="crispEdges"/>
<g shape-rendering="crispEdges" fill="none" stroke="#000" stroke-width="1">
<rect x="2.5" y="2.5" width="568" height="371"/>
<rect x="2.5" y="375.5" width="568" height="81"/>
</g>
<g shape-rendering="crispEdges" stroke="#000" stroke-width="1">
<line x1="571" y1="21.5" x2="575" y2="21.5"/>
<line x1="571" y1="53.5" x2="575" y2="53.5"/>
<line x1="571" y1="85.5" x2="575" y2="85.5"/>
<line x1="571" y1="117.5" x2="575" y2="117.5"/>
<line x1="571" y1="149.5" x2="575" y2="149.5"/>
<line x1="571" y1="181.5" x2="575" y2="181.5"/>
<line x1="571" y1="213.5" x2="575" y2="213.5"/>
<line x1="571" y1="245.5" x2="575" y2="245.5"/>
<line x1="571" y1="277.5" x2="575" y2="277.5"/>
<line x1="571" y1="309.5" x2="575" y2="309.5"/>
<line x1="571" y1="341.5" x2="575" y2="341.5"/>
<line x1="571" y1="376.5" x2="575" y2="376.5"/>
<line x1="571" y1="399.5" x2="575" y2="399.5"/>
<line x1="571" y1="432.5" x2="575" y2="432.5"/>
<line x1="571" y1="455.5" x2="575" y2="455.5"/>
<line x1="2.5" y1="456" x2="2.5" y2="461"/>
<line x1="130.5" y1="456" x2="130.5" y2="461"/>
<line x1="258.5" y1="456" x2="258.5" y2="461"/>
<line x1="386.5" y1="456" x2="386.5" y2="461"/>
</g>
<text x="576" y="25.5" font-size="12" fill="#000" letter-spacing="0.25">5043.10</text>
<text x="576" y="57.5" font-size="12" fill="#000" letter-spacing="0.25">4869.20</text>
<text x="576" y="89.5" font-size="12" fill="#000" letter-spacing="0.25">4695.30</text>
<text x="576" y="121.5" font-size="12" fill="#000" letter-spacing="0.25">4521.40</text>
<text x="576" y="153.5" font-size="12" fill="#000" letter-spacing="0.25">4347.50</text>
<text x="576" y="185.5" font-size="12" fill="#000" letter-spacing="0.25">4173.60</text>
<text x="576" y="217.5" font-size="12" fill="#000" letter-spacing="0.25">3999.70</text>
<text x="576" y="249.5" font-size="12" fill="#000" letter-spacing="0.25">3825.80</text>
<text x="576" y="281.5" font-size="12" fill="#000" letter-spacing="0.25">3651.90</text>
<text x="576" y="313.5" font-size="12" fill="#000" letter-spacing="0.25">3478.00</text>
<text x="576" y="345.5" font-size="12" fill="#000" letter-spacing="0.25">3304.10</text>
<rect x="573" y="50" width="54" height="14" fill="#0000ff" shape-rendering="crispEdges"/>
<text x="576.3" y="62" font-size="12" fill="#fff" letter-spacing="0.4">4850.00</text>
<rect x="573" y="77" width="54" height="14" fill="#0000ff" shape-rendering="crispEdges"/>
<text x="576.3" y="89" font-size="12" fill="#fff" letter-spacing="0.4">4700.00</text>
<rect x="573" y="121" width="54" height="14" fill="#c0c0c0" shape-rendering="crispEdges"/>
<text x="576.3" y="133" font-size="12" fill="#fff" letter-spacing="0.4">4462.84</text>
<rect x="573" y="157" width="54" height="14" fill="#ff0000" shape-rendering="crispEdges"/>
<text x="576.3" y="169" font-size="12" fill="#fff" letter-spacing="0.4">4266.87</text>
<rect x="573" y="209" width="54" height="14" fill="#0000ff" shape-rendering="crispEdges"/>
<text x="576.3" y="221" font-size="12" fill="#fff" letter-spacing="0.4">3984.50</text>
<rect x="573" y="253" width="54" height="14" fill="#0000ff" shape-rendering="crispEdges"/>
<text x="576.3" y="265" font-size="12" fill="#fff" letter-spacing="0.4">3742.00</text>
<text x="576" y="387" font-size="12" fill="#000" letter-spacing="0.25">180.876</text>
<text x="576" y="404" font-size="12" fill="#000" letter-spacing="0.25">70.00</text>
<text x="576" y="437" font-size="12" fill="#000" letter-spacing="0.25">30.00</text>
<text x="576" y="454" font-size="12" fill="#000" letter-spacing="0.25">-143.905</text>
<text x="3" y="472" font-size="12" fill="#000" letter-spacing="0.15">19 Sep 2025</text>
<text x="130" y="472" font-size="12" fill="#000" letter-spacing="0.15">20 Oct 08:00</text>
<text x="258" y="472" font-size="12" fill="#000" letter-spacing="0.15">18 Nov 12:00</text>
<text x="386" y="472" font-size="12" fill="#000" letter-spacing="0.15">17 Dec 20:00</text>
<text x="7" y="16" font-size="12" fill="#000" style="white-space:pre">GOLD, H4:  Gold</text>
<text x="120.5" y="139" font-size="17" letter-spacing="0.45" fill="#ff0000">(iii)</text>
<text x="157.3" y="255.3" font-size="17" letter-spacing="0.55" fill="#ff0000">(iv)</text>
<text x="513.3" y="57" font-size="17" letter-spacing="0.1" fill="#ff0000">(v)</text>
<text x="309.2" y="155.5" font-size="16" letter-spacing="0" fill="#858899" stroke="#858899" stroke-width="0.5">i</text>
<text x="342.2" y="203.5" font-size="16" letter-spacing="1.0" fill="#858899" stroke="#858899" stroke-width="0.5">ii</text>
<text x="415.6" y="105.5" font-size="16" letter-spacing="0.45" fill="#858899" stroke="#858899" stroke-width="0.5">iii</text>
<text x="430.2" y="178.5" font-size="16" letter-spacing="0.4" fill="#858899" stroke="#858899" stroke-width="0.3">iv</text>
<text x="518" y="75" font-size="16" letter-spacing="0" fill="#858899" stroke="#858899" stroke-width="0">v</text>
<circle cx="525" cy="32" r="9.5" fill="none" stroke="#0000ff" stroke-width="1"/>
<text x="521" y="39" font-size="16" fill="#1e3cff">v</text>
<text x="519.5" y="19" font-size="16" fill="#a52a2a">3</text>
<g shape-rendering="crispEdges">
<line x1="3" y1="399.5" x2="570" y2="399.5" stroke="#c0c0c0" stroke-dasharray="3 3"/>
<line x1="3" y1="432.5" x2="570" y2="432.5" stroke="#c0c0c0" stroke-dasharray="3 3"/>
</g>
<g fill="#000" shape-rendering="crispEdges">
<rect x="3" y="420" width="1" height="0"/>
<rect x="4" y="419" width="1" height="1"/>
<rect x="5" y="418" width="1" height="2"/>
<rect x="6" y="417" width="1" height="3"/>
<rect x="7" y="415" width="1" height="5"/>
<rect x="8" y="414" width="1" height="6"/>
<rect x="9" y="412" width="1" height="8"/>
<rect x="10" y="411" width="1" height="9"/>
<rect x="11" y="410" width="1" height="10"/>
<rect x="12" y="408" width="1" height="12"/>
<rect x="13" y="407" width="1" height="13"/>
<rect x="14" y="406" width="1" height="14"/>
<rect x="15" y="405" width="1" height="15"/>
<rect x="16" y="404" width="1" height="16"/>
<rect x="17" y="403" width="1" height="17"/>
<rect x="18" y="404" width="1" height="16"/>
<rect x="19" y="405" width="1" height="15"/>
<rect x="20" y="407" width="1" height="13"/>
<rect x="21" y="408" width="1" height="12"/>
<rect x="22" y="410" width="1" height="10"/>
<rect x="23" y="412" width="1" height="8"/>
<rect x="24" y="413" width="1" height="7"/>
<rect x="25" y="414" width="1" height="6"/>
<rect x="26" y="414" width="1" height="6"/>
<rect x="27" y="415" width="1" height="5"/>
<rect x="28" y="415" width="1" height="5"/>
<rect x="29" y="415" width="1" height="5"/>
<rect x="30" y="416" width="1" height="4"/>
<rect x="31" y="416" width="1" height="4"/>
<rect x="32" y="416" width="1" height="4"/>
<rect x="33" y="416" width="1" height="4"/>
<rect x="34" y="416" width="1" height="4"/>
<rect x="35" y="415" width="1" height="5"/>
<rect x="36" y="414" width="1" height="6"/>
<rect x="37" y="413" width="1" height="7"/>
<rect x="38" y="412" width="1" height="8"/>
<rect x="39" y="410" width="1" height="10"/>
<rect x="40" y="410" width="1" height="10"/>
<rect x="41" y="408" width="1" height="12"/>
<rect x="42" y="407" width="1" height="13"/>
<rect x="43" y="406" width="1" height="14"/>
<rect x="44" y="405" width="1" height="15"/>
<rect x="45" y="405" width="1" height="15"/>
<rect x="46" y="405" width="1" height="15"/>
<rect x="47" y="406" width="1" height="14"/>
<rect x="48" y="406" width="1" height="14"/>
<rect x="49" y="406" width="1" height="14"/>
<rect x="50" y="405" width="1" height="15"/>
<rect x="51" y="405" width="1" height="15"/>
<rect x="52" y="405" width="1" height="15"/>
<rect x="53" y="405" width="1" height="15"/>
<rect x="54" y="405" width="1" height="15"/>
<rect x="55" y="405" width="1" height="15"/>
<rect x="56" y="406" width="1" height="14"/>
<rect x="57" y="407" width="1" height="13"/>
<rect x="58" y="408" width="1" height="12"/>
<rect x="59" y="409" width="1" height="11"/>
<rect x="60" y="410" width="1" height="10"/>
<rect x="61" y="411" width="1" height="9"/>
<rect x="62" y="412" width="1" height="8"/>
<rect x="63" y="412" width="1" height="8"/>
<rect x="64" y="411" width="1" height="9"/>
<rect x="65" y="410" width="1" height="10"/>
<rect x="66" y="409" width="1" height="11"/>
<rect x="67" y="408" width="1" height="12"/>
<rect x="68" y="406" width="1" height="14"/>
<rect x="69" y="404" width="1" height="16"/>
<rect x="70" y="403" width="1" height="17"/>
<rect x="71" y="403" width="1" height="17"/>
<rect x="72" y="402" width="1" height="18"/>
<rect x="73" y="402" width="1" height="18"/>
<rect x="74" y="402" width="1" height="18"/>
<rect x="75" y="402" width="1" height="18"/>
<rect x="76" y="402" width="1" height="18"/>
<rect x="77" y="402" width="1" height="18"/>
<rect x="78" y="401" width="1" height="19"/>
<rect x="79" y="401" width="1" height="19"/>
<rect x="80" y="400" width="1" height="20"/>
<rect x="81" y="399" width="1" height="21"/>
<rect x="82" y="398" width="1" height="22"/>
<rect x="83" y="397" width="1" height="23"/>
<rect x="84" y="397" width="1" height="23"/>
<rect x="85" y="399" width="1" height="21"/>
<rect x="86" y="401" width="1" height="19"/>
<rect x="87" y="402" width="1" height="18"/>
<rect x="88" y="405" width="1" height="15"/>
<rect x="89" y="409" width="1" height="11"/>
<rect x="90" y="414" width="1" height="6"/>
<rect x="91" y="416" width="1" height="4"/>
<rect x="92" y="416" width="1" height="4"/>
<rect x="93" y="415" width="1" height="5"/>
<rect x="94" y="415" width="1" height="5"/>
<rect x="95" y="414" width="1" height="6"/>
<rect x="96" y="413" width="1" height="7"/>
<rect x="97" y="411" width="1" height="9"/>
<rect x="98" y="409" width="1" height="11"/>
<rect x="99" y="406" width="1" height="14"/>
<rect x="100" y="404" width="1" height="16"/>
<rect x="101" y="402" width="1" height="18"/>
<rect x="102" y="401" width="1" height="19"/>
<rect x="103" y="400" width="1" height="20"/>
<rect x="104" y="399" width="1" height="21"/>
<rect x="105" y="399" width="1" height="21"/>
<rect x="106" y="399" width="1" height="21"/>
<rect x="107" y="398" width="1" height="22"/>
<rect x="108" y="398" width="1" height="22"/>
<rect x="109" y="397" width="1" height="23"/>
<rect x="110" y="397" width="1" height="23"/>
<rect x="111" y="396" width="1" height="24"/>
<rect x="112" y="395" width="1" height="25"/>
<rect x="113" y="395" width="1" height="25"/>
<rect x="114" y="394" width="1" height="26"/>
<rect x="115" y="394" width="1" height="26"/>
<rect x="116" y="394" width="1" height="26"/>
<rect x="117" y="394" width="1" height="26"/>
<rect x="118" y="393" width="1" height="27"/>
<rect x="119" y="392" width="1" height="28"/>
<rect x="120" y="392" width="1" height="28"/>
<rect x="121" y="392" width="1" height="28"/>
<rect x="122" y="391" width="1" height="29"/>
<rect x="123" y="393" width="1" height="27"/>
<rect x="124" y="396" width="1" height="24"/>
<rect x="125" y="399" width="1" height="21"/>
<rect x="126" y="404" width="1" height="16"/>
<rect x="127" y="408" width="1" height="12"/>
<rect x="128" y="409" width="1" height="11"/>
<rect x="129" y="408" width="1" height="12"/>
<rect x="130" y="406" width="1" height="14"/>
<rect x="131" y="403" width="1" height="17"/>
<rect x="132" y="400" width="1" height="20"/>
<rect x="133" y="396" width="1" height="24"/>
<rect x="134" y="396" width="1" height="24"/>
<rect x="135" y="400" width="1" height="20"/>
<rect x="136" y="410" width="1" height="10"/>
<rect x="137" y="421" width="1" height="2"/>
<rect x="138" y="421" width="1" height="9"/>
<rect x="139" y="421" width="1" height="12"/>
<rect x="140" y="421" width="1" height="15"/>
<rect x="141" y="421" width="1" height="17"/>
<rect x="142" y="421" width="1" height="19"/>
<rect x="143" y="421" width="1" height="20"/>
<rect x="144" y="421" width="1" height="22"/>
<rect x="145" y="421" width="1" height="21"/>
<rect x="146" y="421" width="1" height="19"/>
<rect x="147" y="421" width="1" height="17"/>
<rect x="148" y="421" width="1" height="15"/>
<rect x="149" y="421" width="1" height="12"/>
<rect x="150" y="421" width="1" height="11"/>
<rect x="151" y="421" width="1" height="9"/>
<rect x="152" y="421" width="1" height="9"/>
<rect x="153" y="421" width="1" height="10"/>
<rect x="154" y="421" width="1" height="10"/>
<rect x="155" y="421" width="1" height="10"/>
<rect x="156" y="421" width="1" height="10"/>
<rect x="157" y="421" width="1" height="9"/>
<rect x="158" y="421" width="1" height="10"/>
<rect x="159" y="421" width="1" height="11"/>
<rect x="160" y="421" width="1" height="12"/>
<rect x="161" y="421" width="1" height="15"/>
<rect x="162" y="421" width="1" height="17"/>
<rect x="163" y="421" width="1" height="20"/>
<rect x="164" y="421" width="1" height="22"/>
<rect x="165" y="421" width="1" height="24"/>
<rect x="166" y="421" width="1" height="26"/>
<rect x="167" y="421" width="1" height="28"/>
<rect x="168" y="421" width="1" height="28"/>
<rect x="169" y="421" width="1" height="26"/>
<rect x="170" y="421" width="1" height="24"/>
<rect x="171" y="421" width="1" height="21"/>
<rect x="172" y="421" width="1" height="19"/>
<rect x="173" y="421" width="1" height="17"/>
<rect x="174" y="421" width="1" height="16"/>
<rect x="175" y="421" width="1" height="15"/>
<rect x="176" y="421" width="1" height="16"/>
<rect x="177" y="421" width="1" height="16"/>
<rect x="178" y="421" width="1" height="14"/>
<rect x="179" y="421" width="1" height="11"/>
<rect x="180" y="421" width="1" height="9"/>
<rect x="181" y="421" width="1" height="7"/>
<rect x="182" y="421" width="1" height="5"/>
<rect x="183" y="421" width="1" height="3"/>
<rect x="184" y="421" width="1" height="2"/>
<rect x="185" y="421" width="1" height="2"/>
<rect x="186" y="421" width="1" height="1"/>
<rect x="187" y="421" width="1" height="1"/>
<rect x="188" y="421" width="1" height="1"/>
<rect x="189" y="421" width="1" height="1"/>
<rect x="190" y="421" width="1" height="1"/>
<rect x="191" y="421" width="1" height="1"/>
<rect x="192" y="421" width="1" height="1"/>
<rect x="193" y="421" width="1" height="1"/>
<rect x="194" y="421" width="1" height="1"/>
<rect x="195" y="421" width="1" height="1"/>
<rect x="196" y="421" width="1" height="2"/>
<rect x="197" y="421" width="1" height="3"/>
<rect x="198" y="421" width="1" height="5"/>
<rect x="199" y="421" width="1" height="7"/>
<rect x="200" y="421" width="1" height="9"/>
<rect x="201" y="421" width="1" height="9"/>
<rect x="202" y="421" width="1" height="8"/>
<rect x="203" y="421" width="1" height="7"/>
<rect x="204" y="421" width="1" height="6"/>
<rect x="205" y="421" width="1" height="5"/>
<rect x="206" y="421" width="1" height="4"/>
<rect x="207" y="421" width="1" height="2"/>
<rect x="208" y="421" width="1" height="1"/>
<rect x="217" y="420" width="1" height="0"/>
<rect x="218" y="418" width="1" height="2"/>
<rect x="219" y="415" width="1" height="5"/>
<rect x="220" y="412" width="1" height="8"/>
<rect x="221" y="410" width="1" height="10"/>
<rect x="222" y="407" width="1" height="13"/>
<rect x="223" y="404" width="1" height="16"/>
<rect x="224" y="402" width="1" height="18"/>
<rect x="225" y="401" width="1" height="19"/>
<rect x="226" y="401" width="1" height="19"/>
<rect x="227" y="401" width="1" height="19"/>
<rect x="228" y="402" width="1" height="18"/>
<rect x="229" y="402" width="1" height="18"/>
<rect x="230" y="403" width="1" height="17"/>
<rect x="231" y="404" width="1" height="16"/>
<rect x="232" y="404" width="1" height="16"/>
<rect x="233" y="403" width="1" height="17"/>
<rect x="234" y="402" width="1" height="18"/>
<rect x="235" y="402" width="1" height="18"/>
<rect x="236" y="400" width="1" height="20"/>
<rect x="237" y="399" width="1" height="21"/>
<rect x="238" y="400" width="1" height="20"/>
<rect x="239" y="402" width="1" height="18"/>
<rect x="240" y="403" width="1" height="17"/>
<rect x="241" y="405" width="1" height="15"/>
<rect x="242" y="407" width="1" height="13"/>
<rect x="243" y="409" width="1" height="11"/>
<rect x="244" y="413" width="1" height="7"/>
<rect x="245" y="416" width="1" height="4"/>
<rect x="246" y="420" width="1" height="0"/>
<rect x="248" y="421" width="1" height="1"/>
<rect x="249" y="421" width="1" height="2"/>
<rect x="250" y="421" width="1" height="3"/>
<rect x="251" y="421" width="1" height="4"/>
<rect x="252" y="421" width="1" height="5"/>
<rect x="253" y="421" width="1" height="6"/>
<rect x="254" y="421" width="1" height="8"/>
<rect x="255" y="421" width="1" height="10"/>
<rect x="256" y="421" width="1" height="11"/>
<rect x="257" y="421" width="1" height="9"/>
<rect x="258" y="421" width="1" height="6"/>
<rect x="259" y="421" width="1" height="4"/>
<rect x="260" y="421" width="1" height="3"/>
<rect x="261" y="421" width="1" height="2"/>
<rect x="262" y="421" width="1" height="1"/>
<rect x="263" y="421" width="1" height="1"/>
<rect x="268" y="421" width="1" height="1"/>
<rect x="269" y="421" width="1" height="2"/>
<rect x="270" y="421" width="1" height="2"/>
<rect x="271" y="421" width="1" height="3"/>
<rect x="272" y="421" width="1" height="3"/>
<rect x="273" y="421" width="1" height="5"/>
<rect x="274" y="421" width="1" height="5"/>
<rect x="275" y="421" width="1" height="4"/>
<rect x="276" y="421" width="1" height="4"/>
<rect x="277" y="421" width="1" height="4"/>
<rect x="278" y="421" width="1" height="4"/>
<rect x="279" y="421" width="1" height="4"/>
<rect x="280" y="421" width="1" height="3"/>
<rect x="281" y="421" width="1" height="3"/>
<rect x="283" y="416" width="1" height="4"/>
<rect x="284" y="414" width="1" height="6"/>
<rect x="285" y="412" width="1" height="8"/>
<rect x="286" y="411" width="1" height="9"/>
<rect x="287" y="411" width="1" height="9"/>
<rect x="288" y="411" width="1" height="9"/>
<rect x="289" y="411" width="1" height="9"/>
<rect x="290" y="411" width="1" height="9"/>
<rect x="291" y="411" width="1" height="9"/>
<rect x="292" y="411" width="1" height="9"/>
<rect x="293" y="410" width="1" height="10"/>
<rect x="294" y="410" width="1" height="10"/>
<rect x="295" y="411" width="1" height="9"/>
<rect x="296" y="411" width="1" height="9"/>
<rect x="297" y="412" width="1" height="8"/>
<rect x="298" y="412" width="1" height="8"/>
<rect x="299" y="412" width="1" height="8"/>
<rect x="300" y="412" width="1" height="8"/>
<rect x="301" y="412" width="1" height="8"/>
<rect x="302" y="412" width="1" height="8"/>
<rect x="303" y="411" width="1" height="9"/>
<rect x="304" y="411" width="1" height="9"/>
<rect x="305" y="410" width="1" height="10"/>
<rect x="306" y="409" width="1" height="11"/>
<rect x="307" y="408" width="1" height="12"/>
<rect x="308" y="407" width="1" height="13"/>
<rect x="309" y="405" width="1" height="15"/>
<rect x="310" y="405" width="1" height="15"/>
<rect x="311" y="404" width="1" height="16"/>
<rect x="312" y="404" width="1" height="16"/>
<rect x="313" y="406" width="1" height="14"/>
<rect x="314" y="408" width="1" height="12"/>
<rect x="315" y="411" width="1" height="9"/>
<rect x="316" y="413" width="1" height="7"/>
<rect x="317" y="414" width="1" height="6"/>
<rect x="318" y="414" width="1" height="6"/>
<rect x="319" y="414" width="1" height="6"/>
<rect x="320" y="414" width="1" height="6"/>
<rect x="321" y="414" width="1" height="6"/>
<rect x="322" y="415" width="1" height="5"/>
<rect x="323" y="416" width="1" height="4"/>
<rect x="324" y="417" width="1" height="3"/>
<rect x="325" y="417" width="1" height="3"/>
<rect x="326" y="417" width="1" height="3"/>
<rect x="327" y="418" width="1" height="2"/>
<rect x="328" y="418" width="1" height="2"/>
<rect x="329" y="418" width="1" height="2"/>
<rect x="330" y="418" width="1" height="2"/>
<rect x="331" y="418" width="1" height="2"/>
<rect x="332" y="418" width="1" height="2"/>
<rect x="333" y="417" width="1" height="3"/>
<rect x="334" y="417" width="1" height="3"/>
<rect x="335" y="416" width="1" height="4"/>
<rect x="336" y="416" width="1" height="4"/>
<rect x="337" y="417" width="1" height="3"/>
<rect x="338" y="417" width="1" height="3"/>
<rect x="339" y="417" width="1" height="3"/>
<rect x="340" y="418" width="1" height="2"/>
<rect x="341" y="419" width="1" height="1"/>
<rect x="344" y="421" width="1" height="1"/>
<rect x="345" y="421" width="1" height="1"/>
<rect x="346" y="421" width="1" height="1"/>
<rect x="349" y="420" width="1" height="0"/>
<rect x="350" y="419" width="1" height="1"/>
<rect x="351" y="419" width="1" height="1"/>
<rect x="352" y="419" width="1" height="1"/>
<rect x="353" y="419" width="1" height="1"/>
<rect x="354" y="419" width="1" height="1"/>
<rect x="355" y="419" width="1" height="1"/>
<rect x="356" y="418" width="1" height="2"/>
<rect x="357" y="418" width="1" height="2"/>
<rect x="358" y="417" width="1" height="3"/>
<rect x="359" y="416" width="1" height="4"/>
<rect x="360" y="414" width="1" height="6"/>
<rect x="361" y="412" width="1" height="8"/>
<rect x="362" y="411" width="1" height="9"/>
<rect x="363" y="409" width="1" height="11"/>
<rect x="364" y="408" width="1" height="12"/>
<rect x="365" y="407" width="1" height="13"/>
<rect x="366" y="406" width="1" height="14"/>
<rect x="367" y="405" width="1" height="15"/>
<rect x="368" y="404" width="1" height="16"/>
<rect x="369" y="404" width="1" height="16"/>
<rect x="370" y="403" width="1" height="17"/>
<rect x="371" y="404" width="1" height="16"/>
<rect x="372" y="406" width="1" height="14"/>
<rect x="373" y="408" width="1" height="12"/>
<rect x="374" y="410" width="1" height="10"/>
<rect x="375" y="412" width="1" height="8"/>
<rect x="376" y="412" width="1" height="8"/>
<rect x="377" y="413" width="1" height="7"/>
<rect x="378" y="413" width="1" height="7"/>
<rect x="379" y="413" width="1" height="7"/>
<rect x="380" y="413" width="1" height="7"/>
<rect x="381" y="412" width="1" height="8"/>
<rect x="382" y="412" width="1" height="8"/>
<rect x="383" y="411" width="1" height="9"/>
<rect x="384" y="411" width="1" height="9"/>
<rect x="385" y="411" width="1" height="9"/>
<rect x="386" y="411" width="1" height="9"/>
<rect x="387" y="411" width="1" height="9"/>
<rect x="388" y="412" width="1" height="8"/>
<rect x="389" y="412" width="1" height="8"/>
<rect x="390" y="413" width="1" height="7"/>
<rect x="391" y="414" width="1" height="6"/>
<rect x="392" y="414" width="1" height="6"/>
<rect x="393" y="415" width="1" height="5"/>
<rect x="394" y="415" width="1" height="5"/>
<rect x="395" y="415" width="1" height="5"/>
<rect x="396" y="415" width="1" height="5"/>
<rect x="397" y="414" width="1" height="6"/>
<rect x="398" y="412" width="1" height="8"/>
<rect x="399" y="410" width="1" height="10"/>
<rect x="400" y="407" width="1" height="13"/>
<rect x="401" y="405" width="1" height="15"/>
<rect x="402" y="403" width="1" height="17"/>
<rect x="403" y="401" width="1" height="19"/>
<rect x="404" y="399" width="1" height="21"/>
<rect x="405" y="397" width="1" height="23"/>
<rect x="406" y="397" width="1" height="23"/>
<rect x="407" y="399" width="1" height="21"/>
<rect x="408" y="400" width="1" height="20"/>
<rect x="409" y="401" width="1" height="19"/>
<rect x="410" y="401" width="1" height="19"/>
<rect x="411" y="401" width="1" height="19"/>
<rect x="412" y="401" width="1" height="19"/>
<rect x="413" y="402" width="1" height="18"/>
<rect x="414" y="401" width="1" height="19"/>
<rect x="415" y="401" width="1" height="19"/>
<rect x="416" y="401" width="1" height="19"/>
<rect x="417" y="400" width="1" height="20"/>
<rect x="418" y="400" width="1" height="20"/>
<rect x="419" y="399" width="1" height="21"/>
<rect x="420" y="399" width="1" height="21"/>
<rect x="421" y="400" width="1" height="20"/>
<rect x="422" y="402" width="1" height="18"/>
<rect x="423" y="407" width="1" height="13"/>
<rect x="424" y="417" width="1" height="3"/>
<rect x="425" y="421" width="1" height="2"/>
<rect x="426" y="421" width="1" height="5"/>
<rect x="427" y="421" width="1" height="6"/>
<rect x="428" y="421" width="1" height="6"/>
<rect x="429" y="421" width="1" height="7"/>
<rect x="430" y="421" width="1" height="8"/>
<rect x="431" y="421" width="1" height="9"/>
<rect x="432" y="421" width="1" height="10"/>
<rect x="433" y="421" width="1" height="11"/>
<rect x="434" y="421" width="1" height="12"/>
<rect x="435" y="421" width="1" height="12"/>
<rect x="436" y="421" width="1" height="13"/>
<rect x="437" y="421" width="1" height="13"/>
<rect x="438" y="421" width="1" height="12"/>
<rect x="439" y="421" width="1" height="12"/>
<rect x="440" y="421" width="1" height="10"/>
<rect x="441" y="421" width="1" height="9"/>
<rect x="442" y="421" width="1" height="7"/>
<rect x="443" y="421" width="1" height="6"/>
<rect x="444" y="421" width="1" height="4"/>
<rect x="445" y="421" width="1" height="3"/>
<rect x="447" y="417" width="1" height="3"/>
<rect x="448" y="414" width="1" height="6"/>
<rect x="449" y="412" width="1" height="8"/>
<rect x="450" y="410" width="1" height="10"/>
<rect x="451" y="409" width="1" height="11"/>
<rect x="452" y="409" width="1" height="11"/>
<rect x="453" y="408" width="1" height="12"/>
<rect x="454" y="407" width="1" height="13"/>
<rect x="455" y="407" width="1" height="13"/>
<rect x="456" y="406" width="1" height="14"/>
<rect x="457" y="408" width="1" height="12"/>
<rect x="458" y="410" width="1" height="10"/>
<rect x="459" y="412" width="1" height="8"/>
<rect x="460" y="413" width="1" height="7"/>
<rect x="461" y="414" width="1" height="6"/>
<rect x="462" y="415" width="1" height="5"/>
<rect x="463" y="416" width="1" height="4"/>
<rect x="464" y="416" width="1" height="4"/>
<rect x="465" y="417" width="1" height="3"/>
<rect x="466" y="417" width="1" height="3"/>
<rect x="467" y="417" width="1" height="3"/>
<rect x="468" y="417" width="1" height="3"/>
</g>
<path d="M3 420h1v1h-1zM4 419h1v1h-1zM5 419h1v1h-1zM8 417h1v1h-1zM9 416h1v1h-1zM9 415h1v1h-1zM12 412h1v1h-1zM12 411h1v1h-1zM13 410h1v1h-1zM15 407h1v1h-1zM16 406h1v1h-1zM17 405h1v1h-1zM20 405h1v1h-1zM21 405h1v1h-1zM22 406h1v1h-1zM24 409h1v1h-1zM24 410h1v1h-1zM25 411h1v1h-1zM27 414h1v1h-1zM28 414h1v1h-1zM29 415h1v1h-1zM32 416h1v1h-1zM33 416h1v1h-1zM34 416h1v1h-1zM37 415h1v1h-1zM38 414h1v1h-1zM39 413h1v1h-1zM42 410h1v1h-1zM42 409h1v1h-1zM43 408h1v1h-1zM46 406h1v1h-1zM47 405h1v1h-1zM48 405h1v1h-1zM51 405h1v1h-1zM52 405h1v1h-1zM53 405h1v1h-1zM56 405h1v1h-1zM57 406h1v1h-1zM58 406h1v1h-1zM61 409h1v1h-1zM62 410h1v1h-1zM63 411h1v1h-1zM66 411h1v1h-1zM67 410h1v1h-1zM68 409h1v1h-1zM70 406h1v1h-1zM71 405h1v1h-1zM72 404h1v1h-1zM75 402h1v1h-1zM76 402h1v1h-1zM77 402h1v1h-1zM80 401h1v1h-1zM81 401h1v1h-1zM82 400h1v1h-1zM85 398h1v1h-1zM86 398h1v1h-1zM87 399h1v1h-1zM89 402h1v1h-1zM89 403h1v1h-1zM90 404h1v1h-1zM91 407h1v1h-1zM91 408h1v1h-1zM91 409h1v1h-1zM92 412h1v1h-1zM93 413h1v1h-1zM93 414h1v1h-1zM96 415h1v1h-1zM97 414h1v1h-1zM98 413h1v1h-1zM100 410h1v1h-1zM100 409h1v1h-1zM101 408h1v1h-1zM102 405h1v1h-1zM103 404h1v1h-1zM103 403h1v1h-1zM105 400h1v1h-1zM106 400h1v1h-1zM107 399h1v1h-1zM110 398h1v1h-1zM111 397h1v1h-1zM112 397h1v1h-1zM115 395h1v1h-1zM116 394h1v1h-1zM117 394h1v1h-1zM120 393h1v1h-1zM121 392h1v1h-1zM122 392h1v1h-1zM125 394h1v1h-1zM126 395h1v1h-1zM126 396h1v1h-1zM127 399h1v1h-1zM127 400h1v1h-1zM128 401h1v1h-1zM129 404h1v1h-1zM129 405h1v1h-1zM129 406h1v1h-1zM132 406h1v1h-1zM132 405h1v1h-1zM133 404h1v1h-1zM134 401h1v1h-1zM134 400h1v1h-1zM135 399h1v1h-1zM137 402h1v1h-1zM137 403h1v1h-1zM137 404h1v1h-1zM138 407h1v1h-1zM138 408h1v1h-1zM138 409h1v1h-1zM138 412h1v1h-1zM139 413h1v1h-1zM139 414h1v1h-1zM139 417h1v1h-1zM139 418h1v1h-1zM139 419h1v1h-1zM140 422h1v1h-1zM140 423h1v1h-1zM140 424h1v1h-1zM141 427h1v1h-1zM141 428h1v1h-1zM141 429h1v1h-1zM141 432h1v1h-1zM142 433h1v1h-1zM142 434h1v1h-1zM143 437h1v1h-1zM143 438h1v1h-1zM144 439h1v1h-1zM146 441h1v1h-1zM147 441h1v1h-1zM148 440h1v1h-1zM150 437h1v1h-1zM150 436h1v1h-1zM151 435h1v1h-1zM152 432h1v1h-1zM153 431h1v1h-1zM154 431h1v1h-1zM157 431h1v1h-1zM158 431h1v1h-1zM159 431h1v1h-1zM162 433h1v1h-1zM162 434h1v1h-1zM163 435h1v1h-1zM164 438h1v1h-1zM165 439h1v1h-1zM165 440h1v1h-1zM166 443h1v1h-1zM167 444h1v1h-1zM167 445h1v1h-1zM169 448h1v1h-1zM170 447h1v1h-1zM171 446h1v1h-1zM173 443h1v1h-1zM174 442h1v1h-1zM174 441h1v1h-1zM176 438h1v1h-1zM177 437h1v1h-1zM178 436h1v1h-1zM181 433h1v1h-1zM181 432h1v1h-1zM182 431h1v1h-1zM183 428h1v1h-1zM184 427h1v1h-1zM184 426h1v1h-1zM186 423h1v1h-1zM187 423h1v1h-1zM188 423h1v1h-1zM191 422h1v1h-1zM192 422h1v1h-1zM193 422h1v1h-1zM196 422h1v1h-1zM197 423h1v1h-1zM198 424h1v1h-1zM201 427h1v1h-1zM201 428h1v1h-1zM202 429h1v1h-1zM205 428h1v1h-1zM206 427h1v1h-1zM207 426h1v1h-1zM209 423h1v1h-1zM210 422h1v1h-1zM211 421h1v1h-1zM214 420h1v1h-1zM215 420h1v1h-1zM216 420h1v1h-1zM219 419h1v1h-1zM220 418h1v1h-1zM220 417h1v1h-1zM222 414h1v1h-1zM222 413h1v1h-1zM222 412h1v1h-1zM224 409h1v1h-1zM224 408h1v1h-1zM224 407h1v1h-1zM226 404h1v1h-1zM226 403h1v1h-1zM227 402h1v1h-1zM230 402h1v1h-1zM231 402h1v1h-1zM232 403h1v1h-1zM235 403h1v1h-1zM236 402h1v1h-1zM237 401h1v1h-1zM240 401h1v1h-1zM241 402h1v1h-1zM242 403h1v1h-1zM244 406h1v1h-1zM244 407h1v1h-1zM244 408h1v1h-1zM246 411h1v1h-1zM246 412h1v1h-1zM246 413h1v1h-1zM247 416h1v1h-1zM248 417h1v1h-1zM248 418h1v1h-1zM250 421h1v1h-1zM250 422h1v1h-1zM251 423h1v1h-1zM254 426h1v1h-1zM255 427h1v1h-1zM255 428h1v1h-1zM258 430h1v1h-1zM259 429h1v1h-1zM260 428h1v1h-1zM262 425h1v1h-1zM262 424h1v1h-1zM263 423h1v1h-1zM266 421h1v1h-1zM267 421h1v1h-1zM268 421h1v1h-1zM271 423h1v1h-1zM272 423h1v1h-1zM273 424h1v1h-1zM276 425h1v1h-1zM277 425h1v1h-1zM278 425h1v1h-1zM281 424h1v1h-1zM282 424h1v1h-1zM283 423h1v1h-1zM284 420h1v1h-1zM285 419h1v1h-1zM285 418h1v1h-1zM286 415h1v1h-1zM287 414h1v1h-1zM287 413h1v1h-1zM290 411h1v1h-1zM291 411h1v1h-1zM292 411h1v1h-1zM295 411h1v1h-1zM296 411h1v1h-1zM297 411h1v1h-1zM300 412h1v1h-1zM301 412h1v1h-1zM302 412h1v1h-1zM305 411h1v1h-1zM306 411h1v1h-1zM307 410h1v1h-1zM310 407h1v1h-1zM311 406h1v1h-1zM312 405h1v1h-1zM315 406h1v1h-1zM315 407h1v1h-1zM316 408h1v1h-1zM318 411h1v1h-1zM318 412h1v1h-1zM319 413h1v1h-1zM322 414h1v1h-1zM323 415h1v1h-1zM324 415h1v1h-1zM327 417h1v1h-1zM328 417h1v1h-1zM329 418h1v1h-1zM332 418h1v1h-1zM333 418h1v1h-1zM334 418h1v1h-1zM337 417h1v1h-1zM338 417h1v1h-1zM339 417h1v1h-1zM342 418h1v1h-1zM343 419h1v1h-1zM344 420h1v1h-1zM347 422h1v1h-1zM348 421h1v1h-1zM349 421h1v1h-1zM352 419h1v1h-1zM353 419h1v1h-1zM354 419h1v1h-1zM357 418h1v1h-1zM358 418h1v1h-1zM359 418h1v1h-1zM361 415h1v1h-1zM362 414h1v1h-1zM363 413h1v1h-1zM365 410h1v1h-1zM365 409h1v1h-1zM366 408h1v1h-1zM369 405h1v1h-1zM370 404h1v1h-1zM371 404h1v1h-1zM374 406h1v1h-1zM375 407h1v1h-1zM375 408h1v1h-1zM377 411h1v1h-1zM378 412h1v1h-1zM379 413h1v1h-1zM382 413h1v1h-1zM383 412h1v1h-1zM384 412h1v1h-1zM387 411h1v1h-1zM388 411h1v1h-1zM389 411h1v1h-1zM392 413h1v1h-1zM393 414h1v1h-1zM394 414h1v1h-1zM397 415h1v1h-1zM398 414h1v1h-1zM399 413h1v1h-1zM401 410h1v1h-1zM402 409h1v1h-1zM402 408h1v1h-1zM403 405h1v1h-1zM404 404h1v1h-1zM404 403h1v1h-1zM406 400h1v1h-1zM407 399h1v1h-1zM408 398h1v1h-1zM411 400h1v1h-1zM412 401h1v1h-1zM413 401h1v1h-1zM416 401h1v1h-1zM417 401h1v1h-1zM418 401h1v1h-1zM421 400h1v1h-1zM422 400h1v1h-1zM423 401h1v1h-1zM424 404h1v1h-1zM424 405h1v1h-1zM425 406h1v1h-1zM425 409h1v1h-1zM425 410h1v1h-1zM426 411h1v1h-1zM426 414h1v1h-1zM426 415h1v1h-1zM427 416h1v1h-1zM427 419h1v1h-1zM427 420h1v1h-1zM428 421h1v1h-1zM428 424h1v1h-1zM429 425h1v1h-1zM429 426h1v1h-1zM432 429h1v1h-1zM433 430h1v1h-1zM434 431h1v1h-1zM437 433h1v1h-1zM438 433h1v1h-1zM439 433h1v1h-1zM442 431h1v1h-1zM443 430h1v1h-1zM444 429h1v1h-1zM446 426h1v1h-1zM446 425h1v1h-1zM447 424h1v1h-1zM448 421h1v1h-1zM448 420h1v1h-1zM449 419h1v1h-1zM450 416h1v1h-1zM450 415h1v1h-1zM451 414h1v1h-1zM452 411h1v1h-1zM453 410h1v1h-1zM454 409h1v1h-1zM457 407h1v1h-1zM458 408h1v1h-1zM459 409h1v1h-1zM462 412h1v1h-1zM462 413h1v1h-1zM463 414h1v1h-1zM466 416h1v1h-1zM467 417h1v1h-1zM468 417h1v1h-1z" fill="#ff0000" shape-rendering="crispEdges"/>
<path d="M81 388h2v1h-2zM80 389h4v1h-4zM119 389h5v1h-5zM15 390h2v1h-2zM79 390h5v1h-5zM114 390h3v1h-3zM118 390h7v1h-7zM404 390h2v1h-2zM15 391h3v1h-3zM79 391h6v1h-6zM113 391h4v1h-4zM118 391h3v1h-3zM122 391h3v1h-3zM403 391h4v1h-4zM14 392h5v1h-5zM78 392h3v1h-3zM83 392h3v1h-3zM111 392h9v1h-9zM123 392h2v1h-2zM364 392h3v1h-3zM403 392h4v1h-4zM13 393h6v1h-6zM78 393h3v1h-3zM84 393h2v1h-2zM109 393h6v1h-6zM116 393h4v1h-4zM123 393h2v1h-2zM224 393h3v1h-3zM234 393h2v1h-2zM364 393h4v1h-4zM403 393h5v1h-5zM12 394h4v1h-4zM17 394h3v1h-3zM44 394h2v1h-2zM71 394h5v1h-5zM77 394h3v1h-3zM84 394h2v1h-2zM108 394h5v1h-5zM116 394h3v1h-3zM123 394h2v1h-2zM223 394h5v1h-5zM234 394h3v1h-3zM238 394h2v1h-2zM364 394h4v1h-4zM402 394h6v1h-6zM10 395h5v1h-5zM17 395h3v1h-3zM43 395h3v1h-3zM70 395h9v1h-9zM84 395h3v1h-3zM102 395h3v1h-3zM108 395h3v1h-3zM116 395h3v1h-3zM123 395h2v1h-2zM222 395h6v1h-6zM234 395h6v1h-6zM364 395h4v1h-4zM402 395h3v1h-3zM406 395h2v1h-2zM10 396h3v1h-3zM18 396h2v1h-2zM42 396h5v1h-5zM69 396h4v1h-4zM74 396h5v1h-5zM84 396h3v1h-3zM102 396h8v1h-8zM116 396h2v1h-2zM123 396h2v1h-2zM222 396h3v1h-3zM226 396h2v1h-2zM234 396h7v1h-7zM364 396h4v1h-4zM401 396h3v1h-3zM406 396h2v1h-2zM10 397h2v1h-2zM18 397h2v1h-2zM42 397h5v1h-5zM68 397h4v1h-4zM74 397h4v1h-4zM85 397h2v1h-2zM101 397h8v1h-8zM123 397h3v1h-3zM221 397h3v1h-3zM226 397h3v1h-3zM233 397h8v1h-8zM363 397h5v1h-5zM399 397h4v1h-4zM406 397h3v1h-3zM419 397h3v1h-3zM9 398h3v1h-3zM18 398h2v1h-2zM41 398h3v1h-3zM45 398h2v1h-2zM67 398h4v1h-4zM75 398h2v1h-2zM85 398h2v1h-2zM100 398h3v1h-3zM123 398h3v1h-3zM221 398h3v1h-3zM227 398h2v1h-2zM233 398h5v1h-5zM239 398h2v1h-2zM309 398h3v1h-3zM363 398h5v1h-5zM399 398h4v1h-4zM406 398h3v1h-3zM418 398h4v1h-4zM9 399h2v1h-2zM18 399h3v1h-3zM40 399h4v1h-4zM45 399h2v1h-2zM67 399h3v1h-3zM85 399h4v1h-4zM99 399h3v1h-3zM124 399h2v1h-2zM220 399h3v1h-3zM227 399h3v1h-3zM233 399h2v1h-2zM239 399h3v1h-3zM308 399h5v1h-5zM362 399h3v1h-3zM366 399h3v1h-3zM398 399h3v1h-3zM407 399h2v1h-2zM417 399h6v1h-6zM8 400h3v1h-3zM19 400h3v1h-3zM39 400h4v1h-4zM45 400h2v1h-2zM67 400h2v1h-2zM85 400h5v1h-5zM98 400h4v1h-4zM124 400h2v1h-2zM219 400h3v1h-3zM227 400h3v1h-3zM233 400h2v1h-2zM239 400h3v1h-3zM307 400h6v1h-6zM361 400h4v1h-4zM367 400h4v1h-4zM398 400h2v1h-2zM407 400h6v1h-6zM416 400h7v1h-7zM8 401h3v1h-3zM19 401h4v1h-4zM38 401h4v1h-4zM45 401h2v1h-2zM50 401h3v1h-3zM66 401h3v1h-3zM85 401h5v1h-5zM98 401h3v1h-3zM124 401h2v1h-2zM219 401h3v1h-3zM228 401h7v1h-7zM240 401h2v1h-2zM306 401h4v1h-4zM311 401h3v1h-3zM361 401h3v1h-3zM367 401h5v1h-5zM398 401h2v1h-2zM407 401h7v1h-7zM415 401h4v1h-4zM421 401h2v1h-2zM8 402h2v1h-2zM20 402h3v1h-3zM37 402h4v1h-4zM45 402h2v1h-2zM49 402h5v1h-5zM66 402h3v1h-3zM88 402h2v1h-2zM97 402h3v1h-3zM124 402h2v1h-2zM132 402h3v1h-3zM219 402h2v1h-2zM228 402h6v1h-6zM240 402h2v1h-2zM306 402h3v1h-3zM311 402h3v1h-3zM360 402h3v1h-3zM367 402h6v1h-6zM397 402h3v1h-3zM407 402h3v1h-3zM412 402h5v1h-5zM421 402h2v1h-2zM456 402h2v1h-2zM7 403h3v1h-3zM21 403h3v1h-3zM35 403h4v1h-4zM45 403h2v1h-2zM48 403h7v1h-7zM66 403h2v1h-2zM88 403h2v1h-2zM97 403h3v1h-3zM124 403h2v1h-2zM131 403h4v1h-4zM219 403h2v1h-2zM231 403h3v1h-3zM240 403h2v1h-2zM305 403h3v1h-3zM312 403h2v1h-2zM360 403h2v1h-2zM367 403h2v1h-2zM370 403h3v1h-3zM397 403h3v1h-3zM407 403h3v1h-3zM412 403h4v1h-4zM421 403h2v1h-2zM453 403h6v1h-6zM7 404h3v1h-3zM21 404h3v1h-3zM35 404h4v1h-4zM45 404h6v1h-6zM52 404h7v1h-7zM65 404h3v1h-3zM88 404h2v1h-2zM96 404h3v1h-3zM124 404h2v1h-2zM130 404h6v1h-6zM218 404h3v1h-3zM232 404h2v1h-2zM240 404h2v1h-2zM284 404h3v1h-3zM290 404h3v1h-3zM302 404h6v1h-6zM312 404h3v1h-3zM360 404h2v1h-2zM371 404h2v1h-2zM397 404h2v1h-2zM407 404h2v1h-2zM413 404h3v1h-3zM421 404h3v1h-3zM452 404h7v1h-7zM7 405h2v1h-2zM22 405h2v1h-2zM35 405h4v1h-4zM45 405h5v1h-5zM53 405h7v1h-7zM65 405h3v1h-3zM88 405h2v1h-2zM96 405h3v1h-3zM124 405h2v1h-2zM130 405h3v1h-3zM134 405h2v1h-2zM218 405h3v1h-3zM240 405h5v1h-5zM283 405h4v1h-4zM289 405h5v1h-5zM301 405h6v1h-6zM312 405h3v1h-3zM335 405h3v1h-3zM359 405h3v1h-3zM371 405h3v1h-3zM385 405h2v1h-2zM397 405h2v1h-2zM413 405h3v1h-3zM422 405h2v1h-2zM450 405h5v1h-5zM457 405h2v1h-2zM6 406h3v1h-3zM22 406h2v1h-2zM34 406h5v1h-5zM45 406h4v1h-4zM57 406h3v1h-3zM64 406h3v1h-3zM88 406h2v1h-2zM96 406h2v1h-2zM124 406h2v1h-2zM130 406h2v1h-2zM134 406h2v1h-2zM218 406h2v1h-2zM240 406h5v1h-5zM283 406h5v1h-5zM289 406h7v1h-7zM301 406h3v1h-3zM313 406h3v1h-3zM335 406h3v1h-3zM359 406h2v1h-2zM371 406h3v1h-3zM384 406h4v1h-4zM396 406h3v1h-3zM413 406h2v1h-2zM422 406h2v1h-2zM448 406h5v1h-5zM457 406h3v1h-3zM5 407h3v1h-3zM22 407h3v1h-3zM34 407h3v1h-3zM45 407h4v1h-4zM58 407h3v1h-3zM64 407h2v1h-2zM88 407h2v1h-2zM96 407h2v1h-2zM124 407h3v1h-3zM129 407h3v1h-3zM134 407h2v1h-2zM218 407h2v1h-2zM241 407h4v1h-4zM283 407h2v1h-2zM286 407h5v1h-5zM292 407h5v1h-5zM301 407h2v1h-2zM313 407h3v1h-3zM334 407h4v1h-4zM359 407h2v1h-2zM372 407h3v1h-3zM377 407h3v1h-3zM382 407h7v1h-7zM395 407h3v1h-3zM422 407h2v1h-2zM447 407h5v1h-5zM458 407h2v1h-2zM5 408h3v1h-3zM22 408h3v1h-3zM26 408h3v1h-3zM34 408h2v1h-2zM45 408h4v1h-4zM58 408h3v1h-3zM63 408h3v1h-3zM88 408h3v1h-3zM95 408h3v1h-3zM124 408h3v1h-3zM128 408h3v1h-3zM134 408h3v1h-3zM218 408h2v1h-2zM241 408h5v1h-5zM282 408h3v1h-3zM286 408h5v1h-5zM294 408h9v1h-9zM314 408h2v1h-2zM334 408h4v1h-4zM358 408h3v1h-3zM372 408h3v1h-3zM377 408h3v1h-3zM381 408h4v1h-4zM386 408h4v1h-4zM395 408h3v1h-3zM422 408h2v1h-2zM446 408h4v1h-4zM458 408h2v1h-2zM5 409h2v1h-2zM23 409h2v1h-2zM26 409h3v1h-3zM33 409h3v1h-3zM45 409h3v1h-3zM59 409h2v1h-2zM62 409h3v1h-3zM88 409h3v1h-3zM95 409h3v1h-3zM125 409h2v1h-2zM128 409h3v1h-3zM134 409h3v1h-3zM218 409h2v1h-2zM241 409h5v1h-5zM263 409h2v1h-2zM282 409h3v1h-3zM287 409h3v1h-3zM295 409h8v1h-8zM314 409h3v1h-3zM334 409h5v1h-5zM355 409h5v1h-5zM373 409h2v1h-2zM377 409h7v1h-7zM387 409h5v1h-5zM395 409h2v1h-2zM422 409h2v1h-2zM446 409h3v1h-3zM458 409h3v1h-3zM4 410h3v1h-3zM23 410h2v1h-2zM26 410h4v1h-4zM33 410h3v1h-3zM45 410h3v1h-3zM59 410h6v1h-6zM89 410h2v1h-2zM95 410h2v1h-2zM125 410h5v1h-5zM135 410h2v1h-2zM208 410h2v1h-2zM214 410h2v1h-2zM217 410h3v1h-3zM244 410h2v1h-2zM263 410h3v1h-3zM282 410h2v1h-2zM288 410h2v1h-2zM298 410h4v1h-4zM314 410h3v1h-3zM319 410h3v1h-3zM333 410h6v1h-6zM355 410h5v1h-5zM373 410h3v1h-3zM377 410h5v1h-5zM388 410h5v1h-5zM394 410h3v1h-3zM422 410h3v1h-3zM446 410h2v1h-2zM459 410h3v1h-3zM467 410h2v1h-2zM4 411h3v1h-3zM23 411h7v1h-7zM32 411h3v1h-3zM59 411h5v1h-5zM89 411h2v1h-2zM95 411h2v1h-2zM125 411h5v1h-5zM135 411h2v1h-2zM208 411h3v1h-3zM213 411h7v1h-7zM244 411h2v1h-2zM262 411h4v1h-4zM281 411h3v1h-3zM315 411h2v1h-2zM318 411h5v1h-5zM332 411h3v1h-3zM337 411h2v1h-2zM350 411h2v1h-2zM355 411h4v1h-4zM374 411h2v1h-2zM377 411h2v1h-2zM391 411h6v1h-6zM422 411h3v1h-3zM445 411h3v1h-3zM459 411h4v1h-4zM467 411h2v1h-2zM4 412h2v1h-2zM23 412h12v1h-12zM59 412h4v1h-4zM89 412h2v1h-2zM94 412h3v1h-3zM125 412h4v1h-4zM135 412h2v1h-2zM181 412h2v1h-2zM207 412h12v1h-12zM244 412h2v1h-2zM262 412h4v1h-4zM281 412h3v1h-3zM315 412h9v1h-9zM330 412h5v1h-5zM337 412h2v1h-2zM349 412h4v1h-4zM354 412h3v1h-3zM374 412h5v1h-5zM392 412h4v1h-4zM423 412h2v1h-2zM445 412h3v1h-3zM460 412h4v1h-4zM466 412h3v1h-3zM3 413h3v1h-3zM24 413h3v1h-3zM28 413h6v1h-6zM59 413h3v1h-3zM89 413h2v1h-2zM92 413h5v1h-5zM126 413h2v1h-2zM135 413h2v1h-2zM181 413h3v1h-3zM190 413h4v1h-4zM207 413h12v1h-12zM244 413h3v1h-3zM261 413h5v1h-5zM281 413h2v1h-2zM315 413h5v1h-5zM321 413h4v1h-4zM329 413h4v1h-4zM337 413h4v1h-4zM348 413h5v1h-5zM354 413h3v1h-3zM374 413h5v1h-5zM392 413h3v1h-3zM423 413h2v1h-2zM440 413h4v1h-4zM445 413h2v1h-2zM461 413h4v1h-4zM466 413h3v1h-3zM3 414h3v1h-3zM24 414h3v1h-3zM29 414h2v1h-2zM89 414h7v1h-7zM135 414h2v1h-2zM180 414h14v1h-14zM206 414h3v1h-3zM210 414h4v1h-4zM215 414h3v1h-3zM245 414h2v1h-2zM261 414h6v1h-6zM269 414h3v1h-3zM276 414h3v1h-3zM280 414h3v1h-3zM316 414h3v1h-3zM322 414h5v1h-5zM328 414h4v1h-4zM337 414h5v1h-5zM347 414h3v1h-3zM351 414h5v1h-5zM375 414h3v1h-3zM423 414h2v1h-2zM440 414h4v1h-4zM445 414h2v1h-2zM462 414h3v1h-3zM466 414h2v1h-2zM3 415h2v1h-2zM89 415h7v1h-7zM135 415h3v1h-3zM180 415h15v1h-15zM205 415h4v1h-4zM211 415h3v1h-3zM245 415h2v1h-2zM260 415h3v1h-3zM264 415h3v1h-3zM268 415h5v1h-5zM276 415h3v1h-3zM280 415h3v1h-3zM316 415h3v1h-3zM323 415h8v1h-8zM337 415h5v1h-5zM346 415h3v1h-3zM351 415h5v1h-5zM375 415h3v1h-3zM423 415h2v1h-2zM440 415h4v1h-4zM445 415h2v1h-2zM463 415h5v1h-5zM3 416h2v1h-2zM89 416h4v1h-4zM136 416h2v1h-2zM179 416h3v1h-3zM185 416h3v1h-3zM192 416h3v1h-3zM204 416h4v1h-4zM245 416h2v1h-2zM260 416h3v1h-3zM265 416h2v1h-2zM268 416h5v1h-5zM275 416h7v1h-7zM325 416h5v1h-5zM340 416h3v1h-3zM346 416h3v1h-3zM352 416h4v1h-4zM376 416h2v1h-2zM423 416h2v1h-2zM439 416h8v1h-8zM463 416h5v1h-5zM2 417h3v1h-3zM89 417h3v1h-3zM136 417h2v1h-2zM147 417h4v1h-4zM172 417h3v1h-3zM178 417h3v1h-3zM193 417h4v1h-4zM203 417h4v1h-4zM245 417h2v1h-2zM259 417h3v1h-3zM265 417h5v1h-5zM271 417h3v1h-3zM275 417h7v1h-7zM327 417h3v1h-3zM340 417h3v1h-3zM345 417h3v1h-3zM352 417h3v1h-3zM423 417h2v1h-2zM439 417h8v1h-8zM2 418h3v1h-3zM89 418h3v1h-3zM136 418h2v1h-2zM147 418h5v1h-5zM172 418h3v1h-3zM178 418h3v1h-3zM194 418h4v1h-4zM202 418h4v1h-4zM245 418h2v1h-2zM258 418h4v1h-4zM265 418h5v1h-5zM272 418h2v1h-2zM275 418h2v1h-2zM278 418h3v1h-3zM341 418h7v1h-7zM352 418h3v1h-3zM423 418h2v1h-2zM439 418h2v1h-2zM442 418h4v1h-4zM89 419h2v1h-2zM136 419h2v1h-2zM146 419h7v1h-7zM155 419h3v1h-3zM172 419h4v1h-4zM177 419h3v1h-3zM195 419h4v1h-4zM202 419h3v1h-3zM245 419h2v1h-2zM257 419h4v1h-4zM266 419h3v1h-3zM272 419h5v1h-5zM341 419h6v1h-6zM423 419h3v1h-3zM438 419h3v1h-3zM442 419h4v1h-4zM136 420h2v1h-2zM146 420h3v1h-3zM150 420h3v1h-3zM154 420h5v1h-5zM172 420h4v1h-4zM177 420h3v1h-3zM196 420h3v1h-3zM201 420h3v1h-3zM245 420h2v1h-2zM257 420h3v1h-3zM273 420h4v1h-4zM342 420h4v1h-4zM423 420h3v1h-3zM438 420h3v1h-3zM443 420h3v1h-3zM136 421h2v1h-2zM145 421h3v1h-3zM151 421h9v1h-9zM172 421h7v1h-7zM197 421h2v1h-2zM201 421h3v1h-3zM245 421h5v1h-5zM256 421h3v1h-3zM273 421h3v1h-3zM424 421h2v1h-2zM438 421h2v1h-2zM443 421h3v1h-3zM136 422h3v1h-3zM145 422h3v1h-3zM151 422h5v1h-5zM157 422h4v1h-4zM172 422h7v1h-7zM197 422h3v1h-3zM201 422h2v1h-2zM245 422h7v1h-7zM256 422h3v1h-3zM273 422h3v1h-3zM424 422h2v1h-2zM428 422h4v1h-4zM438 422h2v1h-2zM444 422h2v1h-2zM137 423h2v1h-2zM140 423h2v1h-2zM144 423h3v1h-3zM152 423h4v1h-4zM158 423h3v1h-3zM171 423h3v1h-3zM175 423h4v1h-4zM197 423h6v1h-6zM249 423h5v1h-5zM256 423h2v1h-2zM274 423h2v1h-2zM424 423h2v1h-2zM428 423h5v1h-5zM437 423h3v1h-3zM137 424h10v1h-10zM153 424h3v1h-3zM159 424h3v1h-3zM171 424h3v1h-3zM175 424h4v1h-4zM198 424h5v1h-5zM250 424h5v1h-5zM256 424h2v1h-2zM424 424h2v1h-2zM427 424h7v1h-7zM436 424h4v1h-4zM137 425h9v1h-9zM153 425h2v1h-2zM160 425h3v1h-3zM171 425h2v1h-2zM175 425h3v1h-3zM198 425h4v1h-4zM252 425h3v1h-3zM256 425h2v1h-2zM424 425h2v1h-2zM427 425h3v1h-3zM431 425h4v1h-4zM436 425h3v1h-3zM137 426h4v1h-4zM142 426h2v1h-2zM160 426h3v1h-3zM170 426h3v1h-3zM198 426h4v1h-4zM253 426h5v1h-5zM424 426h2v1h-2zM427 426h2v1h-2zM432 426h6v1h-6zM137 427h3v1h-3zM161 427h3v1h-3zM170 427h3v1h-3zM199 427h2v1h-2zM253 427h5v1h-5zM424 427h2v1h-2zM427 427h2v1h-2zM433 427h4v1h-4zM161 428h3v1h-3zM169 428h3v1h-3zM254 428h3v1h-3zM424 428h5v1h-5zM434 428h3v1h-3zM162 429h3v1h-3zM168 429h4v1h-4zM254 429h3v1h-3zM424 429h5v1h-5zM435 429h2v1h-2zM163 430h3v1h-3zM168 430h3v1h-3zM255 430h2v1h-2zM425 430h4v1h-4zM164 431h6v1h-6zM425 431h3v1h-3zM164 432h6v1h-6zM165 433h4v1h-4z" fill="#1e90ff" shape-rendering="crispEdges"/>
<text x="5.6" y="391" font-size="12.5" fill="#000">MACD(5,34,5) 14.380 14.093 RSI(14) 56.58</text>
</svg></body></html>
